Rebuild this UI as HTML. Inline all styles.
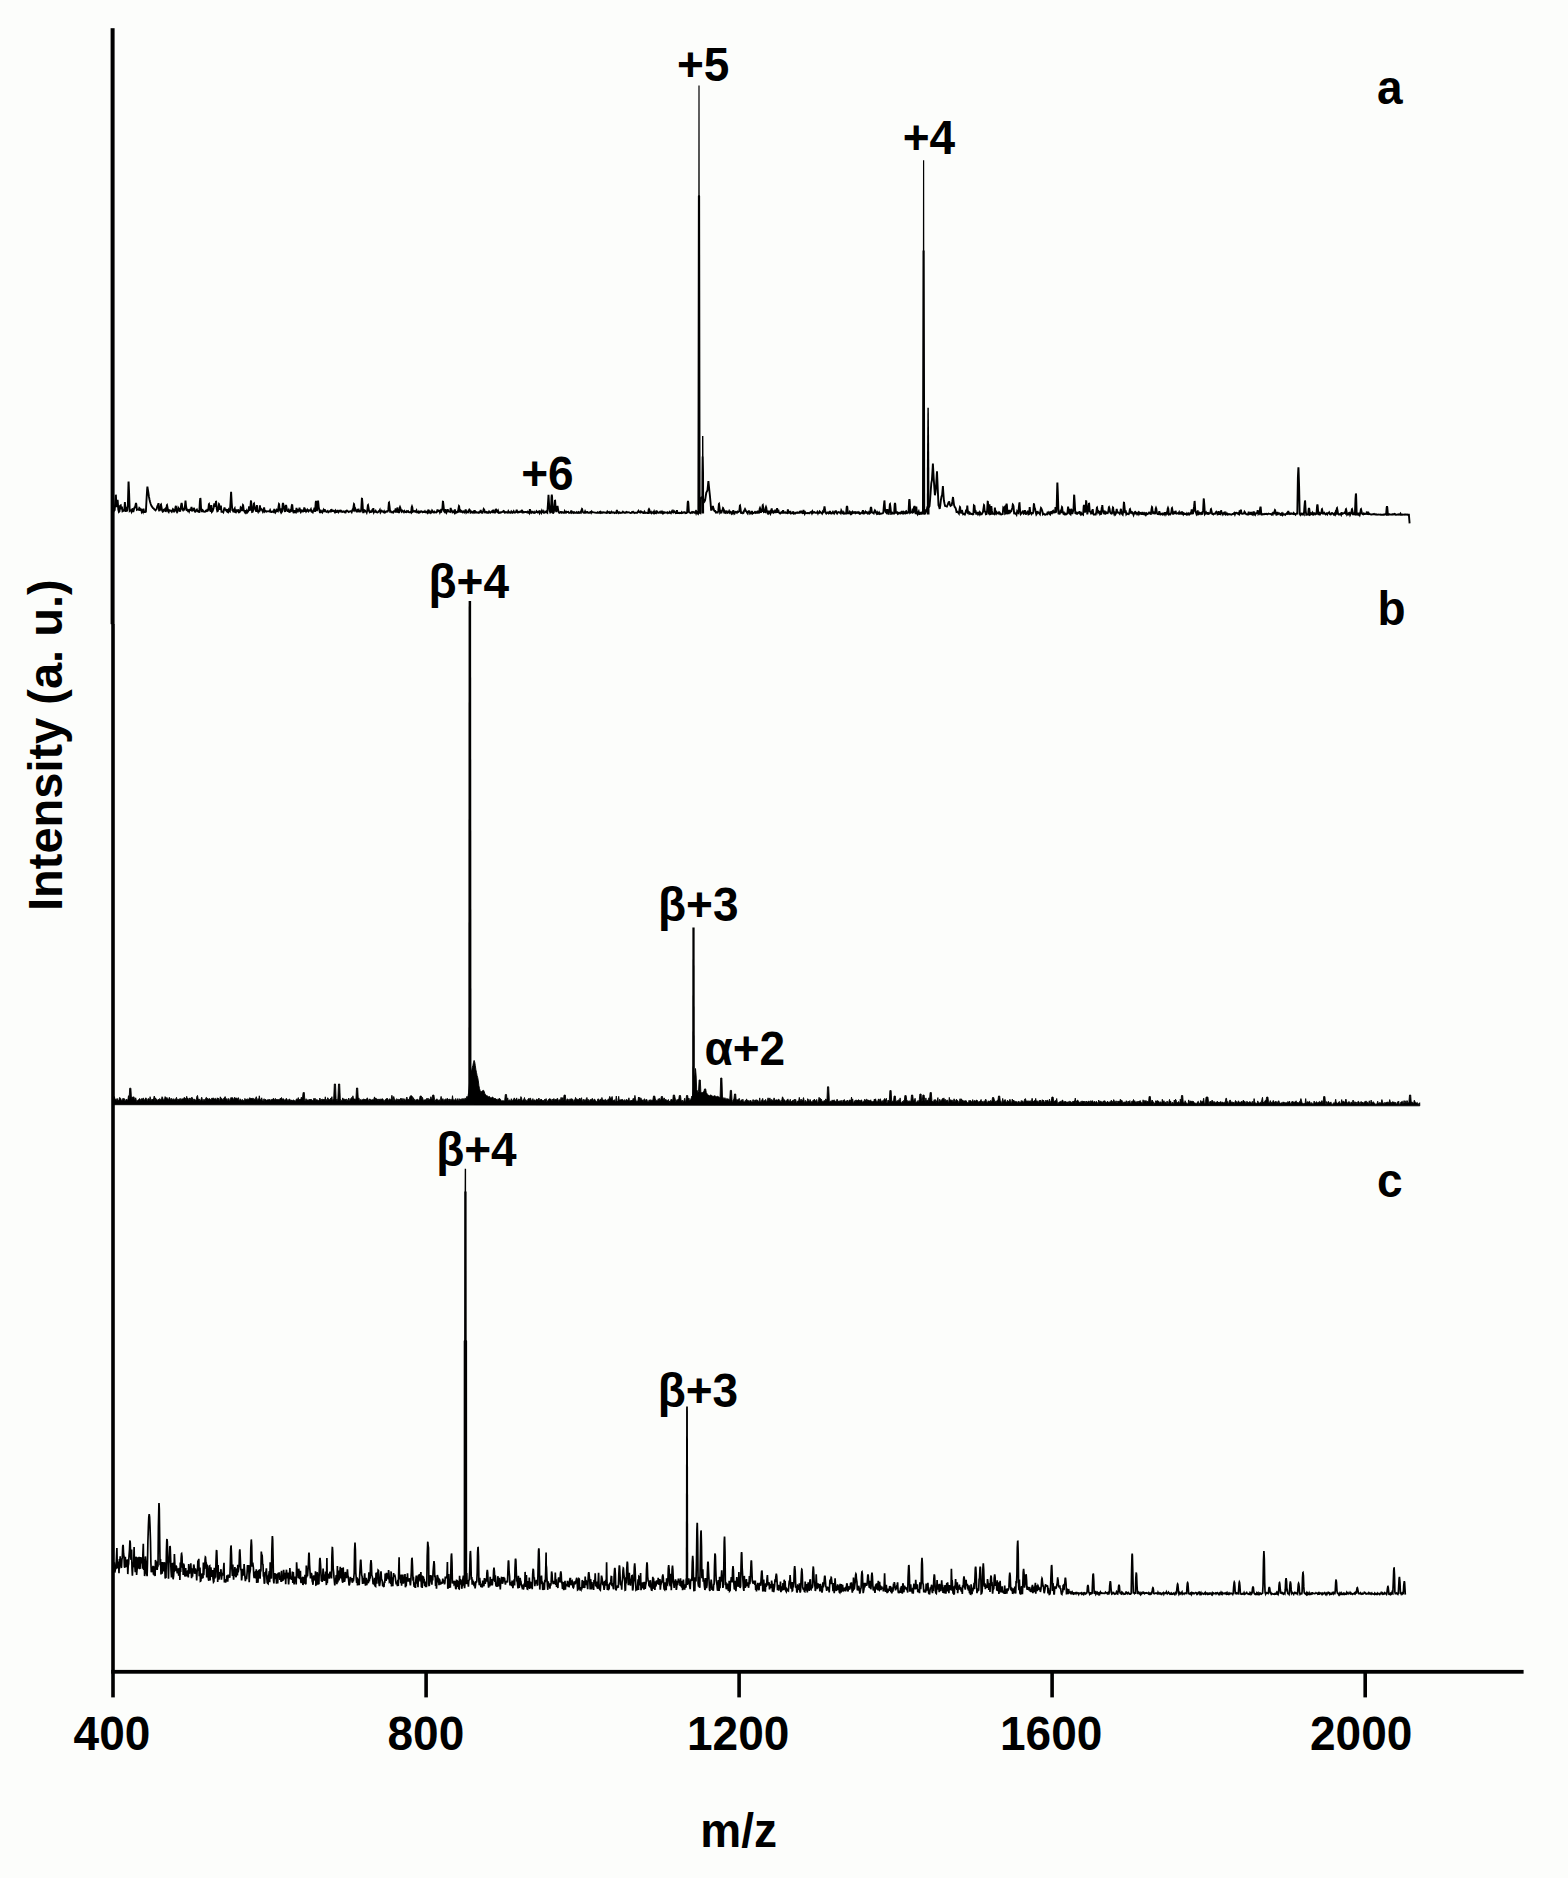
<!DOCTYPE html>
<html lang="en">
<head>
<meta charset="utf-8">
<title>Mass spectra</title>
<style>
html,body{margin:0;padding:0;background:#fcfdfb;}
body{width:1568px;height:1878px;overflow:hidden;font-family:"Liberation Sans", Arial, Helvetica, sans-serif;}
svg{display:block;}
</style>
</head>
<body>
<svg width="1568" height="1878" viewBox="0 0 1568 1878" role="img" aria-label="Mass spectra a, b and c: intensity versus m/z">
<rect x="0" y="0" width="1568" height="1878" fill="#fcfdfb"/>
<g fill="#000" stroke="none">
<rect x="110.6" y="28.2" width="4.0" height="596"/>
<rect x="111.2" y="624" width="3.6" height="1073.4"/>
<rect x="111.2" y="1669.9" width="1412.4" height="3.8"/>
<rect x="424.3" y="1671" width="3.6" height="26.4"/>
<rect x="737.3" y="1671" width="3.6" height="26.4"/>
<rect x="1050.3" y="1671" width="3.6" height="26.4"/>
<rect x="1363.4" y="1671" width="3.6" height="26.4"/>
</g>
<g fill="none" stroke="#000" stroke-linejoin="miter" stroke-miterlimit="3" stroke-linecap="butt">
<polyline stroke-width="1.9" points="113.5,512.0 114.1,510.0 114.7,509.9 115.3,501.1 115.8,494.8 115.9,495.1 116.5,507.2 117.1,502.8 117.5,500.0 117.7,500.7 118.3,509.6 118.9,512.0 119.5,511.4 120.1,505.7 120.7,505.3 121.3,509.4 121.9,506.5 122.5,511.3 123.1,511.0 123.7,510.3 124.3,510.3 124.9,502.1 125.5,512.0 126.1,506.9 126.7,511.5 127.3,510.1 127.9,504.1 128.5,482.1 128.6,481.6 129.1,493.1 129.7,510.7 130.3,510.1 130.9,510.4 131.5,511.7 132.1,509.6 132.7,508.5 133.3,512.0 133.9,509.5 134.5,507.4 135.1,507.2 135.7,504.1 136.0,503.0 136.3,504.1 136.9,509.8 137.5,509.5 138.1,509.7 138.7,509.9 139.3,508.0 139.9,508.6 140.5,510.7 141.1,508.8 141.7,511.8 142.3,510.8 142.9,511.9 143.5,508.8 144.1,512.0 144.7,511.9 145.3,512.0 145.9,511.6 146.5,500.0 147.1,490.0 147.4,486.6 147.7,488.6 148.3,492.2 148.9,496.5 149.5,499.5 150.1,502.0 150.7,504.0 151.3,505.5 151.9,506.5 152.5,507.5 153.1,508.1 153.7,508.4 154.3,509.3 154.9,509.9 155.5,510.4 156.1,509.4 156.7,509.0 157.3,506.3 157.9,505.1 158.0,505.0 158.5,503.2 159.1,510.5 159.7,510.4 160.3,509.5 160.9,504.6 161.0,504.5 161.5,507.1 162.1,510.4 162.7,511.7 163.3,511.4 163.9,509.7 164.5,509.7 165.1,509.0 165.7,511.9 166.3,509.7 166.9,505.1 167.0,505.0 167.5,507.4 168.1,511.3 168.7,512.0 169.3,510.2 169.9,510.5 170.5,510.6 171.1,511.2 171.7,511.8 172.3,510.5 172.9,509.2 173.5,509.8 174.1,512.2 174.7,510.1 175.3,508.3 175.9,505.8 176.5,511.2 177.1,512.2 177.7,511.4 178.3,507.9 178.9,508.9 179.5,509.6 180.1,511.7 180.7,508.0 181.3,504.2 181.6,503.0 181.9,504.2 182.5,509.4 183.1,510.3 183.7,509.3 184.3,510.4 184.9,506.5 185.5,500.5 185.5,500.5 186.1,506.5 186.7,510.0 187.3,509.8 187.9,510.9 188.5,510.3 189.1,511.5 189.7,509.7 190.3,509.7 190.9,509.8 191.5,506.9 192.1,510.6 192.7,510.5 193.3,510.1 193.9,507.9 194.5,509.7 195.1,512.3 195.7,511.0 196.3,510.3 196.9,509.6 197.5,511.1 198.1,510.9 198.7,511.8 199.3,511.9 199.9,501.3 200.3,498.0 200.5,498.8 201.1,508.8 201.7,512.1 202.3,509.9 202.9,510.4 203.5,511.6 204.1,511.6 204.7,511.8 205.3,511.6 205.9,510.7 206.5,511.0 207.1,510.1 207.7,510.7 208.3,509.6 208.9,504.1 209.0,504.0 209.5,506.9 210.1,510.2 210.7,511.7 211.3,505.1 211.9,511.8 212.5,511.2 213.1,509.7 213.7,507.5 214.3,503.4 214.9,506.8 215.5,505.0 216.0,501.0 216.1,501.2 216.7,508.7 217.3,511.3 217.9,510.9 218.5,506.9 219.0,504.0 219.1,504.1 219.7,509.6 220.3,507.9 220.9,505.7 221.5,511.8 222.1,511.8 222.7,511.7 223.3,512.3 223.9,510.1 224.5,507.4 225.1,509.4 225.7,510.0 226.3,510.7 226.9,509.2 227.5,511.8 228.1,512.2 228.7,509.9 229.3,511.1 229.9,511.4 230.5,502.8 231.1,491.8 231.1,491.8 231.7,502.8 232.3,510.1 232.9,510.5 233.5,512.3 234.1,509.5 234.7,508.5 235.3,512.2 235.9,512.3 236.5,509.4 237.1,512.0 237.7,510.3 238.3,510.2 238.9,512.3 239.5,512.1 240.1,511.2 240.7,507.4 241.3,508.0 241.9,511.1 242.5,507.5 243.0,505.0 243.1,505.1 243.7,509.9 244.3,511.4 244.9,512.3 245.5,510.3 246.1,512.1 246.7,510.7 247.3,512.3 247.9,511.6 248.5,510.6 249.1,506.4 249.7,510.7 250.3,508.9 250.9,500.9 251.0,500.7 251.5,504.9 252.1,511.9 252.7,511.7 253.3,509.6 253.9,503.6 254.0,503.5 254.5,506.6 255.1,508.4 255.7,510.3 256.3,511.7 256.9,505.0 257.5,510.6 258.1,511.8 258.7,510.2 259.3,512.2 259.9,505.4 260.5,509.5 261.1,508.8 261.7,509.3 262.3,510.6 262.9,511.9 263.5,510.8 264.1,507.4 264.7,511.4 265.3,510.8 265.9,511.4 266.5,511.7 267.1,511.3 267.7,511.4 268.3,511.4 268.9,511.2 269.5,511.5 270.1,510.2 270.7,511.7 271.3,512.0 271.9,512.0 272.5,511.4 273.1,511.4 273.7,511.9 274.3,509.0 274.9,510.6 275.5,512.3 276.1,511.4 276.7,510.1 277.3,511.1 277.9,511.4 278.5,507.0 279.0,504.0 279.1,504.1 279.7,509.8 280.3,511.0 280.9,508.5 281.5,512.3 282.1,511.5 282.7,504.2 283.0,503.0 283.3,504.2 283.9,507.1 284.5,510.4 285.1,512.0 285.7,505.9 286.0,505.0 286.3,505.9 286.9,509.9 287.5,511.0 288.1,511.0 288.7,509.9 289.3,511.9 289.9,511.8 290.5,510.4 291.1,510.7 291.7,505.9 292.0,505.0 292.3,505.1 292.9,511.0 293.5,512.5 294.1,512.4 294.7,510.3 295.3,512.2 295.9,512.4 296.5,508.0 297.1,511.5 297.7,511.6 298.3,509.1 298.9,511.4 299.5,507.6 300.1,510.9 300.7,512.0 301.3,510.5 301.9,511.2 302.5,510.7 303.1,511.5 303.7,511.1 304.3,507.5 304.9,511.6 305.5,510.3 306.1,511.6 306.7,510.8 307.3,509.7 307.9,510.8 308.5,511.4 309.1,510.2 309.7,510.5 310.3,510.4 310.9,509.3 311.5,511.6 312.1,512.0 312.7,512.4 313.3,510.4 313.9,510.2 314.5,507.7 315.1,511.9 315.7,502.5 316.0,501.0 316.3,502.5 316.9,511.1 317.5,506.8 318.1,500.5 318.1,500.5 318.7,506.8 319.3,510.1 319.9,512.4 320.5,512.4 321.1,510.9 321.7,511.7 322.3,512.4 322.9,510.9 323.5,509.9 324.1,512.0 324.7,509.2 325.3,511.0 325.9,511.4 326.5,511.8 327.1,511.5 327.7,511.0 328.3,512.2 328.9,511.6 329.5,511.5 330.1,511.0 330.7,512.2 331.3,509.1 331.9,511.0 332.5,510.6 333.1,511.0 333.7,510.7 334.3,511.4 334.9,512.3 335.5,510.8 336.1,511.9 336.7,512.0 337.3,510.8 337.9,510.8 338.5,512.2 339.1,511.4 339.7,510.8 340.3,511.4 340.9,510.6 341.5,511.2 342.1,512.0 342.7,511.6 343.3,511.4 343.9,511.7 344.5,512.2 345.1,511.5 345.7,512.2 346.3,511.0 346.9,510.5 347.5,511.1 348.1,511.5 348.7,512.0 349.3,511.7 349.9,511.3 350.5,511.2 351.1,511.2 351.7,512.1 352.3,510.4 352.9,511.4 353.5,507.0 354.0,504.0 354.1,504.1 354.7,509.8 355.3,508.9 355.9,510.7 356.5,511.6 357.1,511.6 357.7,509.0 358.3,512.0 358.9,510.5 359.5,512.3 360.1,510.3 360.7,512.2 361.3,508.6 361.9,498.2 362.0,498.0 362.5,503.4 363.1,512.3 363.7,512.3 364.3,510.1 364.9,510.4 365.5,511.4 366.1,511.2 366.7,512.5 367.3,510.2 367.9,505.1 368.0,505.0 368.5,507.7 369.1,511.2 369.7,512.2 370.3,511.5 370.9,512.1 371.5,512.0 372.1,510.4 372.7,511.0 373.3,508.1 373.9,512.3 374.5,511.3 375.1,511.7 375.7,510.8 376.3,511.9 376.9,512.4 377.5,512.5 378.1,512.1 378.7,511.2 379.3,511.2 379.9,510.0 380.5,512.4 381.1,511.5 381.7,510.7 382.3,511.3 382.9,511.8 383.5,512.2 384.1,511.3 384.7,512.6 385.3,512.4 385.9,511.6 386.5,511.4 387.1,511.8 387.7,511.6 388.3,509.7 388.9,502.6 389.0,502.5 389.5,506.2 390.1,511.5 390.7,511.2 391.3,512.4 391.9,512.4 392.5,512.1 393.1,512.5 393.7,511.3 394.3,511.1 394.9,511.5 395.5,509.4 396.1,509.9 396.7,512.6 397.3,507.5 397.9,512.0 398.5,512.4 399.1,512.4 399.7,507.7 400.0,507.0 400.3,507.7 400.9,510.1 401.5,511.5 402.1,510.6 402.7,511.4 403.3,511.3 403.9,512.2 404.5,511.0 405.1,511.8 405.7,512.2 406.3,512.3 406.9,511.2 407.5,511.6 408.1,511.2 408.7,512.2 409.3,512.3 409.9,512.3 410.5,511.9 411.1,512.5 411.7,507.3 412.0,506.5 412.3,507.3 412.9,511.7 413.5,511.4 414.1,511.2 414.7,511.1 415.3,511.9 415.9,511.7 416.5,510.5 417.1,512.3 417.7,512.1 418.3,512.6 418.9,511.6 419.5,512.5 420.1,512.3 420.7,511.3 421.3,511.2 421.9,511.7 422.5,512.2 423.1,511.7 423.7,512.1 424.3,512.0 424.9,511.2 425.5,512.3 426.1,512.3 426.7,511.8 427.3,512.7 427.9,511.1 428.5,509.7 429.1,512.3 429.7,511.7 430.3,512.7 430.9,511.7 431.5,512.3 432.1,510.5 432.7,511.3 433.3,512.2 433.9,512.5 434.5,511.7 435.1,512.2 435.7,512.4 436.3,512.5 436.9,511.7 437.5,509.5 438.1,511.1 438.7,510.6 439.3,510.7 439.9,512.4 440.5,511.0 441.1,512.6 441.7,509.6 442.3,509.5 442.9,501.2 443.0,501.0 443.5,505.3 444.1,511.3 444.7,512.0 445.3,509.2 445.9,510.9 446.5,512.5 447.1,511.1 447.7,509.4 448.3,511.3 448.9,511.6 449.5,511.6 450.1,511.9 450.7,507.8 451.3,511.2 451.9,510.9 452.5,512.4 453.1,512.1 453.7,511.4 454.3,512.4 454.9,509.5 455.5,512.7 456.1,512.0 456.7,512.5 457.3,511.7 457.9,512.7 458.5,508.4 459.0,506.0 459.1,506.1 459.7,510.7 460.3,512.5 460.9,510.7 461.5,511.2 462.1,512.0 462.7,512.4 463.3,511.2 463.9,511.3 464.5,512.3 465.1,511.6 465.7,509.5 466.3,512.4 466.9,511.6 467.5,512.1 468.1,512.3 468.7,510.6 469.3,509.6 469.9,510.3 470.5,512.7 471.1,512.4 471.7,511.6 472.3,512.2 472.9,512.8 473.5,511.7 474.1,512.3 474.7,510.3 475.3,512.6 475.9,512.6 476.5,512.1 477.1,512.5 477.7,512.4 478.3,512.8 478.9,512.2 479.5,512.6 480.1,511.9 480.7,510.1 481.3,512.4 481.9,512.7 482.5,512.7 483.1,511.1 483.7,509.1 484.3,509.9 484.9,512.3 485.5,512.1 486.1,512.6 486.7,512.1 487.3,512.7 487.9,512.3 488.5,512.7 489.1,511.4 489.7,512.1 490.3,512.7 490.9,512.1 491.5,511.6 492.1,511.2 492.7,512.8 493.3,509.7 493.9,512.1 494.5,512.6 495.1,512.6 495.7,509.6 496.3,509.5 496.9,511.7 497.5,512.1 498.1,510.8 498.7,512.7 499.3,512.5 499.9,512.8 500.5,512.3 501.1,512.5 501.7,512.2 502.3,511.9 502.9,511.9 503.5,511.0 504.1,511.3 504.7,512.6 505.3,512.5 505.9,512.0 506.5,512.1 507.1,512.5 507.7,512.6 508.3,511.2 508.9,512.4 509.5,512.2 510.1,512.7 510.7,512.7 511.3,511.5 511.9,512.2 512.5,512.8 513.1,512.3 513.7,511.2 514.3,512.4 514.9,512.6 515.5,512.2 516.1,511.7 516.7,509.7 517.3,512.3 517.9,512.6 518.5,512.0 519.1,511.7 519.7,512.2 520.3,512.0 520.9,511.3 521.5,511.8 522.1,509.9 522.7,512.5 523.3,512.6 523.9,512.0 524.5,512.2 525.1,511.9 525.7,511.9 526.3,512.1 526.9,512.4 527.5,511.8 528.1,512.6 528.7,512.0 529.3,512.9 529.9,509.2 530.5,512.4 531.1,511.8 531.7,512.7 532.3,511.9 532.9,512.3 533.5,512.7 534.1,511.9 534.7,512.8 535.3,512.6 535.9,512.2 536.5,511.2 537.1,512.0 537.7,512.4 538.3,511.7 538.9,511.4 539.5,512.9 540.1,511.4 540.7,511.6 541.3,512.7 541.9,510.7 542.5,511.9 543.1,512.4 543.7,511.4 544.3,512.7 544.9,512.4 545.5,512.2 546.1,511.5 546.7,512.2 547.3,512.7 547.9,504.7 548.5,494.8 548.5,494.8 549.1,504.7 549.7,510.7 550.3,512.5 550.9,512.1 551.5,497.0 551.8,494.5 552.1,497.0 552.7,512.8 553.3,512.9 553.9,512.0 554.5,504.9 555.0,500.0 555.1,500.2 555.7,509.5 556.3,512.1 556.9,509.6 557.5,506.0 557.5,506.0 558.1,509.6 558.7,512.1 559.3,512.9 559.9,512.7 560.5,511.9 561.1,511.9 561.7,512.7 562.3,512.2 562.9,512.5 563.5,512.9 564.1,512.9 564.7,511.3 565.3,512.6 565.9,512.8 566.5,511.8 567.1,512.1 567.7,512.0 568.3,511.8 568.9,512.9 569.5,512.9 570.1,512.8 570.7,512.3 571.3,510.5 571.9,512.8 572.5,512.4 573.1,512.1 573.7,512.9 574.3,512.3 574.9,512.8 575.5,512.8 576.1,512.8 576.7,512.1 577.3,512.8 577.9,512.9 578.5,512.1 579.1,512.7 579.7,512.9 580.3,512.1 580.9,512.6 581.5,510.4 582.0,509.0 582.1,509.1 582.7,511.7 583.3,512.6 583.9,512.9 584.5,512.9 585.1,511.4 585.7,512.7 586.3,512.6 586.9,512.0 587.5,512.0 588.1,512.9 588.7,512.9 589.3,512.8 589.9,512.4 590.5,512.0 591.1,512.8 591.7,511.5 592.3,512.3 592.9,512.2 593.5,512.4 594.1,512.4 594.7,512.6 595.3,512.6 595.9,512.7 596.5,512.9 597.1,512.9 597.7,512.3 598.3,512.7 598.9,512.7 599.5,512.1 600.1,512.8 600.7,511.9 601.3,512.8 601.9,512.6 602.5,512.7 603.1,512.2 603.7,512.5 604.3,512.5 604.9,512.5 605.5,512.7 606.1,512.9 606.7,512.8 607.3,511.7 607.9,512.6 608.5,512.4 609.1,512.0 609.7,513.0 610.3,513.0 610.9,512.3 611.5,511.8 612.1,512.8 612.7,512.7 613.3,512.3 613.9,512.6 614.5,513.0 615.1,512.5 615.7,512.7 616.3,512.9 616.9,509.9 617.5,512.4 618.1,512.3 618.7,513.0 619.3,512.3 619.9,512.7 620.5,512.9 621.1,512.7 621.7,512.7 622.3,512.6 622.9,511.7 623.5,512.4 624.1,512.8 624.7,512.6 625.3,512.5 625.9,512.7 626.5,511.9 627.1,512.1 627.7,512.5 628.3,512.4 628.9,512.2 629.5,512.7 630.1,512.8 630.7,513.0 631.3,512.9 631.9,512.2 632.5,512.4 633.1,511.8 633.7,512.4 634.3,513.0 634.9,512.7 635.5,512.6 636.1,512.7 636.7,512.7 637.3,512.7 637.9,511.8 638.5,510.9 639.1,512.0 639.7,512.3 640.3,512.5 640.9,511.4 641.5,511.8 642.1,512.4 642.7,512.3 643.3,513.0 643.9,513.0 644.5,511.7 645.1,512.7 645.7,512.9 646.3,512.7 646.9,512.9 647.5,513.1 648.1,513.1 648.7,509.5 649.0,509.0 649.3,509.5 649.9,512.9 650.5,512.9 651.1,512.0 651.7,513.1 652.3,512.5 652.9,512.2 653.5,512.9 654.1,511.5 654.7,513.1 655.3,512.6 655.9,513.0 656.5,510.6 657.1,512.6 657.7,512.2 658.3,512.8 658.9,512.8 659.5,512.4 660.1,511.8 660.7,512.7 661.3,512.6 661.9,511.7 662.5,513.1 663.1,512.3 663.7,513.1 664.3,512.3 664.9,512.7 665.5,512.5 666.1,512.7 666.7,512.8 667.3,512.3 667.9,513.1 668.5,512.7 669.1,512.9 669.7,511.9 670.3,512.7 670.9,513.2 671.5,511.9 672.1,511.0 672.7,512.2 673.3,512.5 673.9,511.0 674.5,511.7 675.1,512.2 675.7,513.2 676.3,513.0 676.9,510.2 677.5,513.0 678.1,513.0 678.7,513.0 679.3,512.8 679.9,513.1 680.5,512.9 681.1,513.1 681.7,512.2 682.3,513.0 682.9,512.8 683.5,512.4 684.1,512.3 684.7,512.1 685.3,513.1 685.9,513.0 686.5,513.1 687.1,512.6 687.7,502.7 688.0,501.0 688.3,502.7 688.9,511.8 689.5,512.5 690.1,512.6 690.7,513.1 691.3,512.7 691.9,512.1 692.5,512.6 693.1,511.9 693.7,512.3 694.3,512.8 694.9,512.6 695.5,511.6 696.1,513.3 696.7,511.7 697.3,512.8 697.9,511.2 698.5,513.2 699.1,512.1 699.7,511.8 700.3,512.5 700.9,497.9 701.5,497.3 702.1,497.5 702.7,498.4 703.3,499.3 703.9,500.2 704.5,501.4 705.1,500.1 705.7,496.4 706.3,492.5 706.9,491.6 707.5,490.0 708.1,484.0 708.4,481.0 708.7,484.0 709.3,490.0 709.9,495.5 710.5,502.0 711.1,509.7 711.7,509.7 712.3,508.0 712.9,505.9 713.5,508.6 714.1,510.4 714.7,511.1 715.3,511.0 715.9,512.5 716.5,512.3 717.1,512.6 717.7,512.6 718.3,510.7 718.9,503.9 719.0,503.8 719.5,507.3 720.1,512.5 720.7,511.7 721.3,513.2 721.9,511.1 722.5,509.9 723.0,508.0 723.1,508.1 723.7,509.9 724.3,513.4 724.9,511.7 725.5,512.8 726.1,512.2 726.7,510.7 727.3,513.0 727.9,512.7 728.5,512.3 729.1,511.1 729.7,512.5 730.3,511.6 730.9,511.9 731.5,513.5 732.1,512.7 732.7,513.4 733.3,510.1 733.9,513.1 734.5,513.6 735.1,511.9 735.7,511.7 736.3,512.2 736.9,512.7 737.5,511.6 738.1,512.1 738.7,511.8 739.3,511.2 739.9,505.6 740.0,505.5 740.5,508.4 741.1,513.6 741.7,512.6 742.3,512.5 742.9,513.3 743.5,512.9 744.1,510.7 744.7,509.6 745.0,509.0 745.3,509.6 745.9,511.1 746.5,511.5 747.1,512.7 747.7,513.5 748.3,511.5 748.9,511.1 749.5,511.4 750.1,513.5 750.7,512.9 751.3,513.2 751.9,510.9 752.5,513.5 753.1,513.0 753.7,513.0 754.3,512.5 754.9,511.9 755.5,512.8 756.1,512.2 756.7,512.9 757.3,512.9 757.9,510.7 758.5,512.2 759.1,513.3 759.7,508.7 760.0,508.0 760.3,508.7 760.9,512.7 761.5,511.3 762.1,511.1 762.7,505.1 762.8,505.0 763.3,508.1 763.9,512.0 764.5,511.7 765.1,512.0 765.7,507.8 766.0,507.0 766.3,507.8 766.9,511.9 767.5,513.0 768.1,511.9 768.7,513.2 769.3,512.3 769.9,511.5 770.5,513.6 771.1,512.3 771.7,508.4 772.3,513.1 772.9,510.6 773.5,512.7 774.1,512.2 774.7,511.2 775.3,512.9 775.9,509.6 776.5,513.0 777.1,508.2 777.7,512.8 778.3,509.7 778.9,512.6 779.5,513.1 780.1,513.5 780.7,513.0 781.3,512.2 781.9,512.8 782.5,512.8 783.1,510.2 783.7,512.7 784.3,512.7 784.9,512.3 785.5,512.2 786.1,513.0 786.7,512.7 787.3,513.0 787.9,509.4 788.5,513.4 789.1,512.2 789.7,512.6 790.3,511.0 790.9,513.4 791.5,513.1 792.1,513.2 792.7,513.0 793.3,511.4 793.9,513.6 794.5,513.2 795.1,513.5 795.7,512.8 796.3,512.5 796.9,512.8 797.5,512.4 798.1,512.9 798.7,512.7 799.3,512.7 799.9,511.0 800.5,513.2 801.1,510.7 801.7,512.4 802.3,512.6 802.9,513.7 803.5,510.0 804.1,512.2 804.7,513.7 805.3,512.3 805.9,513.1 806.5,513.1 807.1,513.2 807.7,513.0 808.3,513.0 808.9,513.3 809.5,513.3 810.1,512.4 810.7,512.0 811.3,511.8 811.9,513.2 812.5,511.5 813.1,512.7 813.7,512.2 814.3,512.0 814.9,512.7 815.5,512.8 816.1,512.9 816.7,512.9 817.3,511.9 817.9,513.3 818.5,511.7 819.1,513.6 819.7,511.4 820.3,511.9 820.9,512.7 821.5,512.9 822.1,513.6 822.7,511.9 823.3,513.1 823.9,510.2 824.5,506.5 824.5,506.5 825.1,510.2 825.7,512.8 826.3,513.6 826.9,513.1 827.5,512.4 828.1,512.4 828.7,513.4 829.3,513.1 829.9,511.0 830.5,512.5 831.1,513.6 831.7,513.6 832.3,512.7 832.9,511.8 833.5,512.9 834.1,513.6 834.7,512.3 835.3,511.3 835.9,511.1 836.5,512.8 837.1,513.6 837.7,512.5 838.3,512.1 838.9,512.4 839.5,512.6 840.1,512.2 840.7,513.1 841.3,510.4 841.9,511.4 842.5,513.2 843.1,513.5 843.7,512.4 844.3,513.6 844.9,513.5 845.5,513.4 846.1,513.5 846.7,507.0 847.0,506.0 847.3,507.0 847.9,513.8 848.5,512.8 849.1,513.1 849.7,511.9 850.3,513.2 850.9,511.5 851.5,513.8 852.1,513.3 852.7,511.8 853.3,512.6 853.9,513.0 854.5,512.1 855.1,512.0 855.7,513.3 856.3,513.0 856.9,512.3 857.5,512.8 858.1,512.2 858.7,513.0 859.3,512.6 859.9,513.9 860.5,513.7 861.1,512.9 861.7,512.5 862.3,512.9 862.9,510.2 863.5,513.6 864.1,513.6 864.7,512.6 865.3,511.8 865.9,513.5 866.5,511.4 867.1,513.0 867.7,513.7 868.3,513.5 868.9,512.3 869.5,513.5 870.1,513.0 870.7,507.9 871.0,507.0 871.3,507.9 871.9,512.4 872.5,512.6 873.1,513.1 873.7,513.5 874.3,511.5 874.9,510.3 875.5,511.1 876.1,512.8 876.7,513.7 877.3,512.5 877.9,513.8 878.5,513.6 879.1,512.6 879.7,513.9 880.3,513.5 880.9,513.8 881.5,513.7 882.1,513.4 882.7,513.4 883.3,512.6 883.9,505.6 884.4,500.7 884.5,500.9 885.1,510.3 885.7,511.9 886.3,512.6 886.9,510.0 887.5,510.0 888.1,513.7 888.7,513.8 889.3,511.1 889.9,504.1 890.0,504.0 890.5,507.6 891.1,513.8 891.7,513.6 892.3,512.8 892.9,513.5 893.5,513.3 894.1,513.4 894.7,504.4 895.0,503.0 895.3,504.4 895.9,512.7 896.5,512.7 897.1,512.4 897.7,513.7 898.3,512.9 898.9,513.6 899.5,512.8 900.1,512.6 900.7,513.4 901.3,512.9 901.9,511.1 902.5,513.4 903.1,513.6 903.7,512.1 904.3,512.9 904.9,513.4 905.5,511.6 906.1,511.2 906.7,513.9 907.3,512.5 907.9,512.1 908.5,513.3 909.1,501.2 909.4,499.2 909.7,501.2 910.3,512.6 910.9,512.0 911.5,512.2 912.1,512.5 912.7,508.7 913.3,513.1 913.9,507.4 914.5,506.0 914.5,506.0 915.1,510.1 915.7,514.1 916.3,506.6 916.9,512.6 917.5,514.1 918.1,512.8 918.7,511.6 919.3,514.1 919.9,513.9 920.5,512.1 921.1,514.4 921.7,512.8 922.3,512.1 922.9,511.5 923.5,511.5 924.1,510.0 924.7,514.3 925.3,509.3 925.9,512.1 926.5,511.0 927.1,508.3 927.7,509.1 928.3,508.1 928.9,507.1 929.5,506.2 930.1,499.3 930.7,491.3 931.3,483.3 931.9,480.3 932.5,470.8 932.9,463.5 933.1,467.2 933.7,478.2 934.3,487.0 934.9,495.3 935.5,491.8 936.1,486.0 936.7,476.4 937.0,471.2 937.3,478.3 937.9,492.4 938.5,505.3 939.1,506.5 939.7,508.9 940.3,505.3 940.9,500.0 941.5,496.6 942.1,495.2 942.7,488.6 942.9,486.1 943.3,492.3 943.9,500.5 944.5,503.5 945.1,506.0 945.7,506.2 946.3,506.3 946.9,506.5 947.5,505.2 948.1,503.7 948.7,502.2 949.3,502.1 949.9,504.7 950.5,505.8 951.1,505.4 951.7,505.1 952.3,501.7 952.9,497.7 953.0,497.0 953.5,501.0 954.1,505.3 954.7,506.9 955.3,507.5 955.9,509.1 956.5,511.9 957.1,511.6 957.7,512.2 958.3,512.7 958.9,513.5 959.5,509.5 960.0,507.0 960.1,507.1 960.7,511.9 961.3,513.4 961.9,510.1 962.5,512.3 963.1,514.2 963.7,513.7 964.3,513.7 964.9,514.5 965.5,513.2 966.1,509.6 966.7,512.6 967.3,505.7 967.9,512.5 968.5,512.0 969.1,513.5 969.7,512.7 970.3,513.8 970.9,513.6 971.5,514.0 972.1,513.9 972.7,514.5 973.3,514.3 973.9,505.5 974.5,506.0 975.1,511.7 975.7,511.4 976.3,514.6 976.9,512.5 977.5,512.6 978.1,514.3 978.7,513.6 979.3,512.4 979.9,514.2 980.5,513.0 981.1,514.2 981.7,514.2 982.3,513.3 982.9,512.2 983.5,508.3 984.0,505.0 984.1,505.1 984.7,511.4 985.3,511.7 985.9,514.3 986.5,514.1 987.1,510.6 987.7,501.2 987.8,501.0 988.3,505.9 988.9,514.5 989.5,504.3 990.1,514.3 990.7,514.1 991.3,506.1 991.9,510.9 992.5,513.7 993.1,513.6 993.7,513.6 994.3,514.0 994.9,507.7 995.5,513.2 996.1,513.8 996.7,512.3 997.3,513.3 997.9,513.3 998.5,513.5 999.1,512.1 999.7,512.5 1000.3,514.3 1000.9,514.3 1001.5,514.5 1002.1,514.2 1002.7,514.0 1003.3,507.7 1003.9,508.3 1004.5,507.4 1005.1,513.7 1005.7,513.2 1006.3,505.2 1006.6,503.8 1006.9,505.2 1007.5,512.9 1008.1,512.2 1008.7,514.0 1009.3,509.8 1009.9,513.4 1010.5,510.4 1011.1,512.0 1011.7,509.5 1012.3,508.0 1012.8,504.5 1012.9,504.6 1013.5,506.2 1014.1,513.1 1014.7,512.8 1015.3,513.7 1015.9,513.6 1016.5,514.6 1017.1,511.5 1017.7,512.6 1018.3,513.0 1018.9,506.8 1019.4,502.5 1019.5,502.7 1020.1,511.0 1020.7,514.2 1021.3,513.5 1021.9,512.6 1022.5,512.0 1023.1,510.7 1023.7,513.7 1024.3,513.3 1024.9,510.1 1025.5,513.2 1026.1,514.6 1026.7,511.7 1027.3,514.0 1027.9,510.6 1028.5,514.4 1029.1,514.1 1029.7,507.2 1030.3,513.1 1030.9,512.9 1031.5,513.9 1032.1,512.2 1032.7,514.0 1033.3,511.2 1033.9,503.7 1034.0,503.5 1034.5,507.5 1035.1,508.7 1035.7,512.3 1036.3,514.4 1036.9,513.5 1037.5,511.2 1038.1,512.6 1038.7,512.8 1039.3,513.5 1039.9,514.2 1040.5,510.2 1041.0,508.0 1041.1,508.1 1041.7,509.3 1042.3,510.9 1042.9,514.2 1043.5,513.5 1044.1,513.9 1044.7,514.6 1045.3,514.7 1045.9,514.4 1046.5,514.1 1047.1,514.3 1047.7,511.6 1048.3,514.0 1048.9,512.7 1049.5,513.9 1050.1,514.4 1050.7,511.4 1051.3,513.2 1051.9,513.4 1052.5,511.4 1053.1,510.9 1053.7,513.4 1054.3,510.9 1054.9,513.1 1055.5,507.0 1056.1,512.7 1056.7,506.4 1057.3,483.1 1057.4,482.6 1057.9,494.7 1058.5,514.2 1059.1,513.1 1059.7,514.4 1060.3,511.8 1060.9,513.0 1061.5,509.6 1062.0,507.0 1062.1,507.1 1062.7,512.1 1063.3,513.4 1063.9,512.7 1064.5,514.1 1065.1,513.6 1065.7,514.5 1066.3,514.4 1066.9,513.9 1067.5,512.3 1068.1,506.6 1068.7,511.7 1069.3,510.8 1069.9,513.8 1070.5,514.3 1071.1,508.9 1071.7,510.6 1072.3,514.1 1072.9,511.7 1073.5,509.3 1074.1,495.1 1074.2,494.8 1074.7,502.2 1075.3,513.1 1075.9,513.4 1076.5,511.6 1077.1,514.5 1077.7,512.9 1078.3,513.0 1078.9,512.6 1079.5,511.3 1080.1,513.8 1080.7,514.5 1081.3,513.3 1081.9,514.3 1082.5,514.1 1083.1,514.6 1083.7,506.2 1084.0,505.0 1084.3,506.2 1084.9,512.5 1085.5,510.6 1086.1,500.7 1086.2,500.5 1086.7,505.7 1087.3,514.4 1087.9,511.2 1088.5,507.2 1089.0,503.0 1089.1,503.2 1089.7,511.2 1090.3,511.9 1090.9,513.1 1091.5,512.0 1092.1,513.9 1092.7,509.1 1093.3,513.8 1093.9,514.6 1094.5,514.4 1095.1,514.6 1095.7,514.6 1096.3,512.3 1096.9,507.6 1097.0,507.5 1097.5,509.9 1098.1,512.4 1098.7,511.3 1099.3,512.0 1099.9,513.7 1100.5,512.4 1101.1,514.7 1101.7,508.0 1102.0,507.0 1102.3,505.2 1102.9,510.8 1103.5,512.6 1104.1,511.7 1104.7,513.0 1105.3,514.4 1105.9,512.1 1106.5,512.7 1107.1,513.2 1107.7,513.3 1108.3,511.4 1108.9,507.1 1109.0,507.0 1109.5,508.4 1110.1,512.1 1110.7,513.2 1111.3,513.7 1111.9,513.5 1112.5,510.0 1113.0,507.5 1113.1,507.6 1113.7,512.3 1114.3,514.3 1114.9,513.1 1115.5,514.2 1116.1,512.9 1116.7,509.0 1117.3,512.4 1117.9,512.3 1118.5,512.4 1119.1,513.1 1119.7,513.8 1120.3,512.0 1120.9,508.8 1121.5,512.7 1122.1,514.0 1122.7,514.7 1123.3,511.1 1123.9,502.2 1124.0,502.0 1124.5,506.6 1125.1,513.1 1125.7,510.5 1126.3,514.4 1126.9,513.7 1127.5,513.6 1128.1,514.2 1128.7,514.3 1129.3,512.7 1129.9,509.1 1130.0,509.0 1130.5,510.9 1131.1,513.5 1131.7,511.4 1132.3,513.3 1132.9,513.4 1133.5,514.8 1134.1,512.7 1134.7,512.2 1135.3,514.3 1135.9,512.5 1136.5,513.1 1137.1,514.2 1137.7,513.4 1138.3,512.5 1138.9,514.1 1139.5,512.8 1140.1,513.5 1140.7,513.1 1141.3,514.1 1141.9,514.1 1142.5,511.9 1143.1,514.2 1143.7,514.3 1144.3,513.3 1144.9,514.2 1145.5,512.5 1146.1,514.6 1146.7,513.5 1147.3,514.2 1147.9,514.0 1148.5,513.2 1149.1,512.4 1149.7,512.7 1150.3,513.8 1150.9,513.9 1151.5,509.4 1152.0,507.0 1152.1,507.1 1152.7,512.3 1153.3,514.0 1153.9,512.2 1154.5,512.4 1155.1,514.2 1155.7,508.8 1156.0,508.0 1156.3,508.8 1156.9,512.8 1157.5,514.0 1158.1,513.9 1158.7,514.2 1159.3,511.3 1159.9,513.8 1160.5,514.3 1161.1,513.6 1161.7,513.6 1162.3,514.4 1162.9,513.4 1163.5,513.4 1164.1,514.4 1164.7,512.9 1165.3,512.9 1165.9,514.3 1166.5,513.0 1167.1,514.4 1167.7,508.8 1168.0,508.0 1168.3,508.8 1168.9,514.4 1169.5,514.0 1170.1,514.5 1170.7,513.8 1171.3,512.4 1171.9,508.1 1172.0,508.0 1172.5,510.3 1173.1,514.6 1173.7,511.3 1174.3,512.5 1174.9,513.8 1175.5,510.9 1176.1,512.6 1176.7,513.7 1177.3,513.5 1177.9,513.1 1178.5,513.5 1179.1,512.3 1179.7,514.4 1180.3,512.2 1180.9,514.2 1181.5,511.4 1182.1,514.5 1182.7,513.2 1183.3,514.5 1183.9,513.4 1184.5,514.0 1185.1,513.8 1185.7,513.9 1186.3,514.5 1186.9,513.4 1187.5,514.5 1188.1,514.3 1188.7,513.5 1189.3,514.6 1189.9,514.2 1190.5,513.0 1191.1,513.3 1191.7,509.4 1192.3,512.8 1192.9,514.2 1193.5,510.6 1194.1,506.2 1194.6,501.2 1194.7,501.4 1195.3,511.0 1195.9,512.5 1196.5,514.2 1197.1,513.1 1197.7,510.5 1198.3,514.3 1198.9,513.9 1199.5,513.0 1200.1,513.8 1200.7,513.0 1201.3,512.7 1201.9,514.1 1202.5,513.9 1203.1,510.4 1203.7,498.9 1203.8,498.7 1204.3,504.7 1204.9,514.1 1205.5,513.4 1206.1,512.5 1206.7,514.1 1207.3,512.2 1207.9,514.6 1208.5,513.2 1209.1,513.6 1209.7,513.4 1210.3,512.8 1210.9,509.1 1211.0,509.0 1211.5,511.0 1212.1,513.8 1212.7,514.0 1213.3,514.4 1213.9,513.6 1214.5,513.6 1215.1,513.7 1215.7,512.5 1216.3,511.8 1216.9,512.5 1217.5,514.3 1218.1,514.0 1218.7,511.1 1219.3,514.0 1219.9,513.8 1220.5,514.2 1221.1,510.3 1221.7,513.1 1222.3,513.1 1222.9,514.4 1223.5,513.3 1224.1,512.7 1224.7,513.9 1225.3,514.4 1225.9,512.9 1226.5,514.0 1227.1,514.6 1227.7,513.7 1228.3,514.4 1228.9,514.3 1229.5,514.1 1230.1,514.3 1230.7,514.4 1231.3,514.7 1231.9,514.5 1232.5,514.0 1233.1,514.0 1233.7,513.4 1234.3,512.9 1234.9,514.4 1235.5,512.9 1236.1,512.7 1236.7,512.8 1237.3,513.5 1237.9,513.2 1238.5,514.0 1239.1,514.4 1239.7,510.3 1240.3,514.1 1240.9,509.7 1241.5,513.4 1242.1,513.9 1242.7,513.9 1243.3,513.5 1243.9,513.5 1244.5,511.7 1245.1,512.5 1245.7,513.7 1246.3,514.2 1246.9,514.2 1247.5,514.6 1248.1,514.6 1248.7,511.7 1249.3,514.0 1249.9,513.6 1250.5,513.9 1251.1,512.0 1251.7,514.0 1252.3,514.6 1252.9,514.0 1253.5,511.5 1254.1,514.2 1254.7,513.3 1255.3,514.6 1255.9,513.5 1256.5,513.2 1257.1,513.0 1257.7,510.1 1258.3,513.8 1258.9,512.9 1259.5,513.6 1260.1,508.6 1260.5,506.8 1260.7,507.3 1261.3,514.1 1261.9,514.7 1262.5,514.4 1263.1,514.0 1263.7,514.2 1264.3,514.2 1264.9,513.8 1265.5,514.0 1266.1,514.0 1266.7,513.8 1267.3,514.4 1267.9,514.0 1268.5,513.6 1269.1,513.9 1269.7,513.9 1270.3,513.9 1270.9,514.1 1271.5,514.6 1272.1,513.8 1272.7,514.4 1273.3,511.9 1273.9,514.4 1274.5,511.6 1275.0,510.0 1275.1,510.1 1275.7,513.2 1276.3,514.6 1276.9,514.0 1277.5,511.9 1278.1,514.0 1278.7,513.5 1279.3,513.3 1279.9,513.7 1280.5,514.8 1281.1,514.6 1281.7,513.7 1282.3,514.8 1282.9,513.5 1283.5,514.6 1284.1,514.4 1284.7,514.3 1285.3,514.8 1285.9,514.0 1286.5,513.7 1287.1,512.9 1287.7,514.6 1288.3,511.0 1288.9,514.5 1289.5,512.5 1290.1,514.0 1290.7,513.8 1291.3,513.4 1291.9,513.8 1292.5,513.7 1293.1,514.0 1293.7,513.0 1294.3,513.9 1294.9,514.0 1295.5,514.7 1296.1,514.0 1296.7,513.3 1297.3,513.5 1297.9,477.1 1298.4,467.4 1298.4,467.4 1298.5,467.8 1299.1,486.4 1299.7,513.8 1300.3,514.8 1300.9,513.7 1301.5,513.6 1302.1,514.5 1302.7,514.5 1303.3,513.4 1303.9,514.2 1304.5,505.9 1305.0,500.6 1305.1,500.8 1305.7,511.1 1306.3,514.7 1306.9,514.5 1307.5,514.3 1308.1,514.5 1308.7,508.9 1309.0,508.0 1309.3,508.9 1309.9,514.7 1310.5,514.4 1311.1,513.4 1311.7,513.8 1312.3,512.8 1312.9,514.7 1313.5,514.8 1314.1,513.1 1314.7,513.5 1315.3,514.2 1315.9,513.5 1316.5,513.8 1317.1,505.9 1317.4,504.5 1317.7,505.9 1318.3,513.7 1318.9,514.2 1319.5,513.2 1320.1,514.2 1320.7,513.2 1321.3,513.1 1321.9,509.1 1322.0,509.0 1322.5,511.1 1323.1,513.6 1323.7,513.5 1324.3,512.8 1324.9,513.7 1325.5,514.4 1326.1,513.8 1326.7,513.4 1327.3,514.3 1327.9,513.1 1328.5,513.0 1329.1,512.3 1329.7,514.0 1330.3,514.4 1330.9,514.3 1331.5,513.0 1332.1,512.9 1332.7,513.4 1333.3,514.2 1333.9,514.8 1334.5,513.7 1335.1,514.5 1335.7,511.9 1336.3,512.8 1336.9,508.1 1337.0,508.0 1337.5,510.5 1338.1,514.0 1338.7,514.6 1339.3,514.6 1339.9,514.1 1340.5,513.8 1341.1,514.8 1341.7,512.2 1342.3,513.9 1342.9,513.6 1343.5,513.4 1344.1,513.0 1344.7,512.4 1345.3,513.1 1345.9,509.1 1346.0,509.0 1346.5,511.1 1347.1,514.5 1347.7,513.8 1348.3,514.3 1348.9,513.0 1349.5,512.8 1350.1,514.9 1350.7,513.8 1351.3,513.1 1351.9,509.1 1352.0,509.0 1352.5,511.1 1353.1,515.0 1353.7,512.6 1354.3,514.2 1354.9,514.4 1355.5,498.7 1355.9,493.5 1356.1,494.8 1356.7,514.4 1357.3,514.5 1357.9,512.7 1358.5,514.5 1359.1,513.9 1359.7,515.0 1360.3,513.1 1360.9,509.1 1361.0,509.0 1361.5,511.1 1362.1,513.6 1362.7,514.1 1363.3,514.3 1363.9,513.4 1364.5,513.8 1365.1,514.0 1365.7,513.8 1366.3,513.7 1366.9,511.6 1367.5,514.7 1368.1,511.8 1368.7,514.0 1369.3,513.8 1369.9,514.1 1370.5,514.4 1371.1,514.5 1371.7,514.6 1372.3,514.3 1372.9,514.4 1373.5,514.3 1374.1,513.9 1374.7,514.4 1375.3,514.5 1375.9,514.3 1376.5,514.4 1377.1,514.7 1377.7,514.6 1378.3,514.5 1378.9,514.6 1379.5,514.6 1380.1,514.5 1380.7,514.7 1381.3,514.6 1381.9,514.7 1382.5,514.7 1383.1,514.7 1383.7,514.5 1384.3,514.7 1384.9,514.3 1385.5,514.4 1386.1,514.6 1386.7,507.4 1387.0,506.2 1387.3,507.4 1387.9,514.7 1388.5,514.7 1389.1,514.3 1389.7,514.3 1390.3,514.6 1390.9,514.6 1391.5,514.5 1392.1,514.7 1392.7,514.1 1393.3,514.1 1393.9,514.5 1394.5,513.8 1395.1,514.0 1395.7,514.7 1396.3,514.7 1396.9,514.6 1397.5,514.5 1398.1,514.7 1398.7,514.3 1399.3,514.6 1399.9,514.7 1400.5,513.6 1401.1,514.6 1401.7,514.7 1402.3,514.7 1402.9,514.5 1403.5,514.6 1404.1,514.7 1404.7,514.5 1405.3,514.5 1405.9,514.8 1406.5,514.5 1407.1,514.8 1407.7,514.6 1408.3,514.8 1408.9,514.8 1409.6,523.3"/>
<polygon fill="#000" stroke-width="0.9" points="113.5,1104.7 113.5,1101.5 114.1,1096.5 114.7,1097.8 115.3,1099.9 115.9,1099.3 116.5,1100.4 117.1,1098.4 117.7,1099.9 118.3,1101.0 118.9,1100.0 119.5,1097.6 120.1,1097.7 120.7,1098.6 121.3,1100.3 121.9,1100.3 122.5,1100.0 123.1,1098.1 123.7,1099.9 124.3,1098.6 124.9,1100.7 125.5,1100.2 126.1,1099.6 126.7,1099.0 127.3,1100.2 127.9,1099.6 128.5,1095.7 129.1,1098.9 129.7,1088.2 130.3,1088.2 130.9,1088.2 131.5,1099.7 132.1,1096.8 132.7,1098.4 133.3,1097.1 133.9,1096.7 134.5,1098.7 135.1,1100.3 135.7,1097.8 136.3,1100.2 136.9,1101.5 137.5,1100.4 138.1,1100.1 138.7,1099.7 139.3,1098.8 139.9,1098.6 140.5,1099.7 141.1,1100.6 141.7,1098.5 142.3,1100.1 142.9,1098.2 143.5,1098.1 144.1,1100.3 144.7,1099.6 145.3,1099.0 145.9,1097.8 146.5,1098.8 147.1,1100.5 147.7,1100.0 148.3,1098.4 148.9,1099.0 149.5,1100.4 150.1,1096.7 150.7,1099.9 151.3,1100.8 151.9,1099.1 152.5,1099.6 153.1,1099.0 153.7,1098.3 154.3,1096.0 154.9,1101.4 155.5,1097.8 156.1,1099.5 156.7,1099.2 157.3,1100.3 157.9,1100.3 158.5,1099.2 159.1,1099.9 159.7,1098.5 160.3,1099.4 160.9,1099.9 161.5,1098.6 162.1,1096.7 162.7,1097.7 163.3,1100.1 163.9,1099.5 164.5,1099.6 165.1,1096.6 165.7,1098.0 166.3,1098.3 166.9,1097.4 167.5,1099.1 168.1,1099.0 168.7,1099.5 169.3,1097.3 169.9,1098.0 170.5,1099.8 171.1,1100.0 171.7,1098.3 172.3,1099.7 172.9,1099.8 173.5,1098.7 174.1,1099.8 174.7,1100.1 175.3,1098.7 175.9,1099.4 176.5,1097.3 177.1,1100.9 177.7,1099.2 178.3,1099.6 178.9,1099.2 179.5,1099.5 180.1,1098.3 180.7,1100.2 181.3,1099.8 181.9,1098.6 182.5,1099.0 183.1,1099.0 183.7,1098.6 184.3,1097.3 184.9,1098.3 185.5,1098.3 186.1,1100.1 186.7,1096.3 187.3,1098.6 187.9,1098.0 188.5,1099.7 189.1,1099.4 189.7,1098.0 190.3,1098.2 190.9,1100.6 191.5,1097.5 192.1,1097.3 192.7,1099.0 193.3,1100.7 193.9,1098.9 194.5,1099.4 195.1,1099.4 195.7,1100.3 196.3,1099.7 196.9,1096.2 197.5,1095.4 198.1,1098.6 198.7,1099.3 199.3,1099.1 199.9,1100.6 200.5,1100.6 201.1,1099.1 201.7,1097.2 202.3,1099.3 202.9,1100.7 203.5,1099.9 204.1,1099.1 204.7,1101.1 205.3,1100.3 205.9,1097.7 206.5,1097.4 207.1,1099.6 207.7,1098.3 208.3,1099.2 208.9,1099.1 209.5,1098.5 210.1,1098.9 210.7,1099.7 211.3,1099.2 211.9,1098.1 212.5,1098.4 213.1,1097.8 213.7,1099.0 214.3,1098.8 214.9,1098.9 215.5,1098.3 216.1,1099.4 216.7,1100.1 217.3,1097.8 217.9,1100.2 218.5,1098.2 219.1,1100.3 219.7,1100.3 220.3,1096.8 220.9,1098.7 221.5,1098.2 222.1,1099.2 222.7,1099.5 223.3,1099.8 223.9,1098.0 224.5,1098.0 225.1,1096.6 225.7,1098.5 226.3,1099.4 226.9,1098.5 227.5,1100.4 228.1,1100.1 228.7,1098.4 229.3,1100.3 229.9,1100.4 230.5,1098.5 231.1,1097.4 231.7,1098.1 232.3,1097.8 232.9,1097.8 233.5,1100.0 234.1,1099.3 234.7,1097.2 235.3,1099.2 235.9,1097.9 236.5,1098.0 237.1,1098.8 237.7,1098.9 238.3,1097.6 238.9,1100.2 239.5,1101.0 240.1,1098.8 240.7,1099.5 241.3,1100.0 241.9,1100.5 242.5,1099.5 243.1,1100.7 243.7,1100.3 244.3,1101.8 244.9,1098.4 245.5,1100.1 246.1,1099.5 246.7,1099.5 247.3,1098.7 247.9,1099.7 248.5,1099.3 249.1,1099.3 249.7,1097.7 250.3,1098.0 250.9,1098.9 251.5,1098.1 252.1,1098.9 252.7,1098.2 253.3,1098.3 253.9,1099.5 254.5,1098.8 255.1,1099.9 255.7,1098.1 256.3,1096.7 256.9,1099.2 257.5,1101.1 258.1,1098.6 258.7,1100.6 259.3,1095.8 259.9,1099.2 260.5,1099.4 261.1,1099.7 261.7,1097.8 262.3,1100.2 262.9,1100.7 263.5,1100.0 264.1,1098.7 264.7,1101.4 265.3,1099.1 265.9,1099.7 266.5,1100.3 267.1,1099.7 267.7,1100.0 268.3,1099.8 268.9,1099.4 269.5,1099.6 270.1,1099.5 270.7,1100.5 271.3,1099.7 271.9,1099.3 272.5,1099.3 273.1,1099.0 273.7,1098.3 274.3,1099.8 274.9,1099.9 275.5,1098.5 276.1,1099.5 276.7,1099.5 277.3,1099.5 277.9,1099.6 278.5,1099.6 279.1,1099.4 279.7,1099.5 280.3,1098.2 280.9,1099.2 281.5,1097.5 282.1,1098.6 282.7,1099.3 283.3,1098.8 283.9,1099.0 284.5,1101.1 285.1,1099.9 285.7,1099.4 286.3,1098.3 286.9,1099.0 287.5,1100.5 288.1,1100.2 288.7,1099.9 289.3,1099.0 289.9,1099.3 290.5,1099.9 291.1,1101.3 291.7,1099.9 292.3,1101.1 292.9,1100.2 293.5,1100.0 294.1,1100.3 294.7,1100.7 295.3,1101.3 295.9,1100.2 296.5,1098.9 297.1,1098.9 297.7,1099.4 298.3,1097.6 298.9,1100.1 299.5,1099.5 300.1,1099.0 300.7,1100.0 301.3,1097.2 301.9,1098.2 302.5,1097.8 303.1,1092.5 303.7,1092.5 304.3,1092.5 304.9,1101.3 305.5,1100.6 306.1,1098.7 306.7,1101.2 307.3,1100.0 307.9,1099.8 308.5,1100.8 309.1,1099.2 309.7,1100.3 310.3,1099.0 310.9,1099.7 311.5,1099.5 312.1,1100.4 312.7,1100.3 313.3,1101.0 313.9,1098.3 314.5,1099.6 315.1,1098.3 315.7,1100.6 316.3,1099.8 316.9,1099.6 317.5,1100.0 318.1,1100.5 318.7,1100.6 319.3,1099.8 319.9,1098.0 320.5,1101.0 321.1,1099.1 321.7,1100.4 322.3,1099.4 322.9,1099.1 323.5,1099.7 324.1,1099.0 324.7,1101.1 325.3,1096.8 325.9,1101.2 326.5,1099.6 327.1,1100.4 327.7,1097.7 328.3,1098.9 328.9,1099.2 329.5,1099.6 330.1,1100.1 330.7,1098.1 331.3,1099.7 331.9,1096.7 332.5,1101.5 333.1,1099.3 333.7,1098.8 334.3,1084.0 334.9,1084.0 335.5,1084.0 336.1,1098.7 336.7,1100.0 337.3,1100.9 337.9,1098.1 338.5,1084.0 339.1,1084.0 339.7,1084.0 340.3,1098.9 340.9,1100.4 341.5,1100.4 342.1,1100.8 342.7,1097.9 343.3,1100.3 343.9,1098.7 344.5,1099.7 345.1,1099.3 345.7,1099.6 346.3,1099.1 346.9,1100.4 347.5,1099.8 348.1,1100.7 348.7,1098.0 349.3,1099.7 349.9,1100.7 350.5,1098.8 351.1,1098.9 351.7,1097.4 352.3,1099.9 352.9,1095.8 353.5,1099.0 354.1,1099.0 354.7,1099.1 355.3,1098.9 355.9,1099.8 356.5,1088.0 357.1,1088.0 357.7,1088.0 358.3,1099.8 358.9,1097.9 359.5,1100.4 360.1,1099.6 360.7,1099.7 361.3,1100.9 361.9,1099.4 362.5,1099.8 363.1,1099.8 363.7,1098.8 364.3,1100.2 364.9,1099.0 365.5,1100.0 366.1,1099.3 366.7,1098.7 367.3,1097.8 367.9,1099.2 368.5,1099.9 369.1,1100.8 369.7,1098.9 370.3,1099.3 370.9,1099.7 371.5,1100.0 372.1,1099.6 372.7,1099.7 373.3,1099.4 373.9,1099.2 374.5,1096.9 375.1,1100.5 375.7,1097.9 376.3,1098.9 376.9,1098.9 377.5,1100.2 378.1,1098.9 378.7,1100.4 379.3,1099.1 379.9,1099.6 380.5,1099.2 381.1,1099.1 381.7,1099.2 382.3,1098.7 382.9,1099.0 383.5,1100.4 384.1,1100.2 384.7,1101.5 385.3,1099.6 385.9,1099.1 386.5,1099.0 387.1,1098.1 387.7,1099.1 388.3,1100.3 388.9,1100.1 389.5,1098.7 390.1,1100.0 390.7,1099.6 391.3,1098.4 391.9,1095.3 392.5,1097.8 393.1,1101.3 393.7,1096.5 394.3,1098.4 394.9,1100.3 395.5,1100.2 396.1,1099.9 396.7,1098.7 397.3,1099.2 397.9,1100.4 398.5,1099.3 399.1,1099.6 399.7,1099.4 400.3,1100.4 400.9,1098.0 401.5,1100.2 402.1,1098.4 402.7,1099.4 403.3,1100.5 403.9,1098.5 404.5,1099.5 405.1,1099.9 405.7,1100.3 406.3,1098.4 406.9,1097.0 407.5,1099.8 408.1,1099.2 408.7,1099.6 409.3,1099.2 409.9,1096.8 410.5,1095.8 411.1,1095.8 411.7,1095.8 412.3,1096.6 412.9,1099.9 413.5,1097.7 414.1,1100.5 414.7,1099.3 415.3,1100.4 415.9,1099.8 416.5,1099.8 417.1,1099.3 417.7,1099.4 418.3,1100.6 418.9,1099.6 419.5,1099.4 420.1,1096.0 420.7,1096.0 421.3,1096.0 421.9,1098.7 422.5,1097.4 423.1,1100.0 423.7,1100.2 424.3,1099.9 424.9,1099.9 425.5,1099.7 426.1,1100.2 426.7,1098.4 427.3,1100.9 427.9,1098.1 428.5,1098.9 429.1,1099.7 429.7,1099.2 430.3,1098.7 430.9,1096.7 431.5,1098.6 432.1,1099.2 432.7,1095.0 433.3,1095.0 433.9,1095.0 434.5,1099.2 435.1,1101.5 435.7,1099.8 436.3,1099.8 436.9,1098.8 437.5,1099.7 438.1,1100.6 438.7,1099.9 439.3,1099.7 439.9,1101.6 440.5,1099.3 441.1,1096.4 441.7,1099.1 442.3,1099.8 442.9,1098.6 443.5,1101.5 444.1,1099.4 444.7,1100.9 445.3,1099.5 445.9,1098.7 446.5,1100.7 447.1,1098.5 447.7,1098.6 448.3,1099.3 448.9,1100.4 449.5,1099.0 450.1,1099.1 450.7,1100.5 451.3,1099.5 451.9,1100.3 452.5,1095.7 453.1,1100.2 453.7,1099.5 454.3,1100.1 454.9,1100.2 455.5,1098.6 456.1,1100.0 456.7,1101.3 457.3,1098.6 457.9,1100.6 458.5,1101.0 459.1,1098.6 459.7,1100.4 460.3,1099.5 460.9,1098.9 461.5,1099.9 462.1,1098.5 462.7,1099.6 463.3,1098.6 463.9,1099.2 464.5,1099.5 465.1,1097.9 465.7,1099.3 466.3,1098.2 466.9,1096.4 467.5,1097.5 468.1,1095.6 468.7,1092.1 469.3,1085.8 469.9,1078.0 470.5,1071.7 471.1,1070.6 471.7,1069.9 472.3,1067.2 472.9,1065.5 473.5,1062.3 474.1,1060.4 474.7,1061.9 475.3,1065.6 475.9,1069.8 476.5,1072.5 477.1,1075.7 477.7,1077.5 478.3,1080.8 478.9,1085.7 479.5,1088.5 480.1,1090.5 480.7,1092.2 481.3,1092.1 481.9,1091.1 482.5,1090.8 483.1,1090.4 483.7,1090.4 484.3,1092.0 484.9,1093.8 485.5,1094.4 486.1,1095.2 486.7,1095.8 487.3,1095.7 487.9,1096.3 488.5,1096.9 489.1,1096.3 489.7,1096.7 490.3,1097.9 490.9,1097.8 491.5,1098.1 492.1,1097.1 492.7,1097.2 493.3,1097.6 493.9,1098.9 494.5,1098.1 495.1,1098.7 495.7,1098.5 496.3,1099.8 496.9,1099.0 497.5,1101.2 498.1,1098.8 498.7,1099.7 499.3,1098.2 499.9,1099.0 500.5,1099.3 501.1,1100.5 501.7,1100.9 502.3,1100.5 502.9,1100.9 503.5,1100.7 504.1,1100.7 504.7,1100.7 505.3,1094.5 505.9,1094.5 506.5,1094.5 507.1,1101.4 507.7,1097.9 508.3,1100.8 508.9,1100.2 509.5,1100.0 510.1,1100.5 510.7,1101.0 511.3,1098.7 511.9,1100.8 512.5,1100.3 513.1,1099.6 513.7,1099.3 514.3,1097.9 514.9,1100.0 515.5,1099.9 516.1,1099.0 516.7,1097.9 517.3,1100.7 517.9,1099.8 518.5,1099.3 519.1,1098.9 519.7,1099.9 520.3,1101.1 520.9,1096.6 521.5,1097.9 522.1,1100.4 522.7,1100.7 523.3,1099.7 523.9,1099.2 524.5,1097.5 525.1,1101.5 525.7,1099.6 526.3,1100.5 526.9,1100.9 527.5,1100.2 528.1,1099.0 528.7,1098.4 529.3,1099.4 529.9,1098.2 530.5,1098.2 531.1,1099.7 531.7,1100.3 532.3,1101.0 532.9,1098.6 533.5,1101.3 534.1,1099.9 534.7,1099.9 535.3,1100.9 535.9,1100.3 536.5,1099.1 537.1,1099.3 537.7,1099.8 538.3,1100.6 538.9,1098.0 539.5,1100.5 540.1,1099.8 540.7,1099.8 541.3,1099.0 541.9,1100.1 542.5,1101.1 543.1,1100.0 543.7,1100.7 544.3,1101.6 544.9,1099.0 545.5,1101.2 546.1,1098.6 546.7,1101.7 547.3,1101.1 547.9,1100.7 548.5,1099.6 549.1,1098.9 549.7,1098.7 550.3,1099.2 550.9,1098.9 551.5,1100.8 552.1,1100.4 552.7,1099.2 553.3,1100.0 553.9,1098.5 554.5,1100.2 555.1,1099.5 555.7,1099.6 556.3,1099.7 556.9,1098.8 557.5,1098.2 558.1,1099.8 558.7,1101.7 559.3,1099.8 559.9,1099.8 560.5,1100.2 561.1,1097.4 561.7,1100.9 562.3,1097.6 562.9,1100.5 563.5,1099.0 564.1,1095.0 564.7,1095.0 565.3,1095.0 565.9,1100.8 566.5,1100.3 567.1,1099.2 567.7,1099.0 568.3,1099.4 568.9,1100.6 569.5,1100.1 570.1,1098.8 570.7,1099.5 571.3,1098.6 571.9,1099.2 572.5,1099.1 573.1,1100.4 573.7,1101.5 574.3,1099.6 574.9,1101.4 575.5,1097.4 576.1,1099.5 576.7,1098.7 577.3,1099.3 577.9,1099.8 578.5,1099.4 579.1,1099.6 579.7,1098.1 580.3,1099.7 580.9,1098.7 581.5,1097.7 582.1,1101.2 582.7,1101.1 583.3,1099.2 583.9,1101.5 584.5,1099.9 585.1,1099.5 585.7,1101.6 586.3,1098.7 586.9,1097.5 587.5,1100.0 588.1,1100.7 588.7,1099.4 589.3,1101.5 589.9,1100.3 590.5,1099.7 591.1,1099.0 591.7,1101.1 592.3,1098.3 592.9,1100.6 593.5,1100.0 594.1,1099.4 594.7,1099.1 595.3,1100.3 595.9,1100.9 596.5,1101.5 597.1,1101.4 597.7,1099.2 598.3,1098.8 598.9,1100.2 599.5,1100.6 600.1,1099.3 600.7,1099.2 601.3,1101.5 601.9,1097.5 602.5,1100.0 603.1,1100.1 603.7,1100.1 604.3,1100.2 604.9,1099.7 605.5,1099.3 606.1,1100.7 606.7,1100.2 607.3,1101.4 607.9,1099.3 608.5,1099.3 609.1,1099.0 609.7,1096.4 610.3,1097.8 610.9,1099.1 611.5,1098.2 612.1,1096.5 612.7,1100.2 613.3,1100.3 613.9,1101.0 614.5,1099.7 615.1,1101.4 615.7,1100.5 616.3,1096.0 616.9,1100.7 617.5,1101.3 618.1,1100.4 618.7,1096.3 619.3,1100.9 619.9,1099.7 620.5,1100.0 621.1,1099.4 621.7,1099.8 622.3,1099.5 622.9,1099.6 623.5,1101.1 624.1,1100.9 624.7,1099.6 625.3,1101.1 625.9,1100.5 626.5,1099.3 627.1,1100.6 627.7,1099.8 628.3,1101.2 628.9,1097.8 629.5,1101.3 630.1,1100.7 630.7,1100.7 631.3,1100.8 631.9,1100.0 632.5,1101.2 633.1,1098.3 633.7,1098.8 634.3,1100.5 634.9,1095.4 635.5,1098.8 636.1,1101.0 636.7,1101.3 637.3,1101.1 637.9,1101.3 638.5,1097.0 639.1,1101.4 639.7,1097.3 640.3,1101.3 640.9,1097.9 641.5,1100.1 642.1,1100.0 642.7,1100.0 643.3,1101.8 643.9,1099.3 644.5,1098.8 645.1,1101.1 645.7,1100.3 646.3,1099.1 646.9,1099.7 647.5,1101.5 648.1,1101.9 648.7,1100.8 649.3,1099.8 649.9,1101.5 650.5,1099.7 651.1,1100.3 651.7,1100.2 652.3,1100.3 652.9,1099.8 653.5,1096.0 654.1,1096.0 654.7,1096.0 655.3,1098.7 655.9,1100.4 656.5,1100.4 657.1,1100.7 657.7,1100.3 658.3,1098.7 658.9,1101.1 659.5,1098.4 660.1,1100.1 660.7,1099.9 661.3,1096.5 661.9,1096.5 662.5,1096.5 663.1,1100.1 663.7,1098.6 664.3,1097.9 664.9,1100.2 665.5,1099.6 666.1,1099.5 666.7,1100.3 667.3,1100.4 667.9,1100.2 668.5,1099.6 669.1,1102.6 669.7,1101.0 670.3,1101.9 670.9,1099.7 671.5,1099.0 672.1,1099.9 672.7,1100.9 673.3,1095.0 673.9,1095.0 674.5,1095.0 675.1,1097.9 675.7,1101.4 676.3,1100.7 676.9,1099.7 677.5,1100.3 678.1,1099.0 678.7,1099.8 679.3,1095.5 679.9,1095.5 680.5,1095.5 681.1,1100.2 681.7,1101.3 682.3,1100.1 682.9,1102.6 683.5,1100.9 684.1,1100.3 684.7,1098.2 685.3,1101.4 685.9,1100.8 686.5,1095.5 687.1,1095.5 687.7,1095.5 688.3,1100.7 688.9,1098.0 689.5,1100.8 690.1,1100.0 690.7,1099.4 691.3,1097.9 691.9,1096.0 692.5,1097.4 693.1,1091.4 693.7,1084.8 694.3,1079.1 694.9,1074.5 695.5,1068.5 696.1,1075.2 696.7,1089.5 697.3,1090.6 697.9,1092.5 698.5,1091.6 699.1,1080.0 699.7,1079.9 700.3,1080.0 700.9,1092.5 701.5,1092.6 702.1,1092.6 702.7,1092.4 703.3,1091.7 703.9,1091.7 704.5,1089.0 705.1,1088.8 705.7,1089.0 706.3,1092.7 706.9,1093.3 707.5,1095.1 708.1,1095.1 708.7,1095.1 709.3,1096.0 709.9,1095.6 710.5,1095.1 711.1,1094.9 711.7,1095.7 712.3,1096.2 712.9,1095.9 713.5,1096.9 714.1,1095.5 714.7,1096.0 715.3,1096.2 715.9,1096.2 716.5,1096.7 717.1,1096.4 717.7,1096.3 718.3,1097.1 718.9,1096.7 719.5,1097.3 720.1,1097.4 720.7,1078.0 721.3,1078.0 721.9,1078.0 722.5,1097.6 723.1,1097.4 723.7,1098.4 724.3,1098.4 724.9,1097.7 725.5,1098.8 726.1,1099.6 726.7,1098.5 727.3,1098.8 727.9,1099.0 728.5,1099.1 729.1,1099.4 729.7,1100.2 730.3,1090.4 730.9,1090.4 731.5,1090.4 732.1,1101.4 732.7,1101.2 733.3,1099.8 733.9,1099.0 734.5,1094.0 735.1,1094.0 735.7,1094.0 736.3,1102.0 736.9,1099.4 737.5,1100.1 738.1,1099.6 738.7,1099.1 739.3,1098.4 739.9,1100.9 740.5,1102.0 741.1,1099.9 741.7,1100.0 742.3,1100.4 742.9,1099.2 743.5,1101.8 744.1,1102.0 744.7,1101.8 745.3,1100.3 745.9,1101.6 746.5,1098.9 747.1,1100.6 747.7,1100.3 748.3,1101.2 748.9,1100.4 749.5,1102.4 750.1,1100.7 750.7,1100.0 751.3,1101.8 751.9,1101.9 752.5,1101.2 753.1,1099.5 753.7,1101.2 754.3,1101.2 754.9,1100.1 755.5,1100.6 756.1,1099.6 756.7,1101.4 757.3,1099.9 757.9,1100.7 758.5,1101.8 759.1,1101.7 759.7,1097.9 760.3,1101.6 760.9,1102.1 761.5,1100.4 762.1,1099.6 762.7,1098.4 763.3,1101.1 763.9,1101.3 764.5,1100.8 765.1,1099.9 765.7,1099.4 766.3,1101.9 766.9,1101.5 767.5,1099.9 768.1,1097.8 768.7,1100.5 769.3,1099.9 769.9,1097.9 770.5,1101.7 771.1,1099.2 771.7,1100.5 772.3,1099.8 772.9,1100.9 773.5,1100.1 774.1,1097.9 774.7,1100.0 775.3,1100.9 775.9,1099.7 776.5,1099.9 777.1,1100.0 777.7,1100.2 778.3,1099.4 778.9,1099.1 779.5,1100.7 780.1,1100.4 780.7,1101.2 781.3,1101.4 781.9,1099.4 782.5,1096.8 783.1,1098.0 783.7,1100.8 784.3,1099.7 784.9,1100.1 785.5,1102.5 786.1,1100.7 786.7,1101.0 787.3,1099.5 787.9,1098.9 788.5,1100.9 789.1,1101.3 789.7,1100.6 790.3,1099.3 790.9,1101.6 791.5,1101.5 792.1,1101.1 792.7,1100.4 793.3,1099.9 793.9,1102.9 794.5,1099.3 795.1,1100.0 795.7,1099.4 796.3,1101.9 796.9,1102.7 797.5,1101.1 798.1,1100.9 798.7,1100.7 799.3,1097.4 799.9,1100.6 800.5,1100.9 801.1,1099.1 801.7,1100.8 802.3,1101.1 802.9,1099.7 803.5,1097.6 804.1,1100.4 804.7,1104.1 805.3,1100.3 805.9,1100.8 806.5,1102.3 807.1,1101.6 807.7,1098.7 808.3,1099.4 808.9,1100.7 809.5,1101.8 810.1,1099.4 810.7,1101.0 811.3,1101.4 811.9,1102.1 812.5,1101.4 813.1,1100.1 813.7,1100.9 814.3,1099.0 814.9,1100.2 815.5,1101.1 816.1,1100.7 816.7,1099.4 817.3,1101.5 817.9,1102.7 818.5,1101.0 819.1,1097.3 819.7,1100.8 820.3,1098.3 820.9,1100.1 821.5,1099.3 822.1,1102.2 822.7,1101.3 823.3,1101.5 823.9,1100.6 824.5,1100.7 825.1,1100.7 825.7,1099.0 826.3,1099.4 826.9,1101.2 827.5,1086.8 828.1,1086.8 828.7,1086.8 829.3,1100.4 829.9,1101.4 830.5,1101.0 831.1,1101.6 831.7,1100.8 832.3,1099.9 832.9,1100.5 833.5,1100.6 834.1,1099.8 834.7,1100.5 835.3,1101.1 835.9,1101.7 836.5,1100.8 837.1,1099.2 837.7,1101.1 838.3,1102.2 838.9,1100.8 839.5,1102.2 840.1,1100.6 840.7,1101.2 841.3,1100.4 841.9,1101.6 842.5,1102.7 843.1,1100.0 843.7,1101.3 844.3,1099.5 844.9,1101.2 845.5,1101.4 846.1,1100.8 846.7,1102.0 847.3,1100.0 847.9,1102.4 848.5,1101.4 849.1,1100.2 849.7,1100.1 850.3,1100.1 850.9,1101.5 851.5,1097.1 852.1,1101.4 852.7,1098.9 853.3,1103.1 853.9,1102.5 854.5,1100.7 855.1,1101.9 855.7,1100.1 856.3,1099.9 856.9,1100.8 857.5,1100.5 858.1,1100.1 858.7,1099.7 859.3,1101.7 859.9,1100.1 860.5,1102.0 861.1,1099.9 861.7,1100.0 862.3,1102.8 862.9,1101.6 863.5,1101.4 864.1,1101.2 864.7,1099.3 865.3,1100.5 865.9,1099.7 866.5,1099.2 867.1,1102.0 867.7,1099.7 868.3,1100.5 868.9,1100.1 869.5,1101.0 870.1,1100.7 870.7,1099.8 871.3,1101.7 871.9,1101.2 872.5,1101.9 873.1,1101.2 873.7,1102.0 874.3,1099.1 874.9,1100.3 875.5,1098.8 876.1,1100.6 876.7,1101.5 877.3,1101.4 877.9,1101.0 878.5,1098.9 879.1,1101.9 879.7,1099.4 880.3,1098.8 880.9,1100.3 881.5,1101.3 882.1,1102.5 882.7,1100.6 883.3,1101.5 883.9,1099.8 884.5,1098.6 885.1,1099.1 885.7,1101.2 886.3,1098.2 886.9,1102.9 887.5,1102.6 888.1,1100.0 888.7,1101.3 889.3,1100.7 889.9,1090.5 890.5,1090.5 891.1,1090.5 891.7,1101.6 892.3,1101.8 892.9,1100.8 893.5,1101.7 894.1,1096.0 894.7,1096.0 895.3,1096.0 895.9,1101.6 896.5,1101.0 897.1,1101.7 897.7,1100.4 898.3,1102.2 898.9,1099.6 899.5,1101.1 900.1,1097.9 900.7,1101.3 901.3,1103.1 901.9,1102.7 902.5,1101.3 903.1,1101.9 903.7,1100.4 904.3,1101.3 904.9,1095.5 905.5,1095.5 906.1,1095.5 906.7,1099.8 907.3,1100.6 907.9,1101.6 908.5,1101.5 909.1,1100.6 909.7,1101.8 910.3,1101.2 910.9,1101.1 911.5,1095.0 912.1,1095.0 912.7,1095.0 913.3,1100.1 913.9,1100.6 914.5,1099.8 915.1,1098.3 915.7,1101.9 916.3,1102.9 916.9,1101.7 917.5,1100.7 918.1,1101.4 918.7,1101.0 919.3,1099.7 919.9,1094.0 920.5,1094.0 921.1,1094.0 921.7,1102.0 922.3,1100.2 922.9,1095.0 923.5,1095.0 924.1,1095.0 924.7,1099.8 925.3,1102.5 925.9,1097.9 926.5,1102.0 927.1,1099.9 927.7,1100.4 928.3,1101.6 928.9,1097.8 929.5,1100.4 930.1,1092.5 930.7,1092.5 931.3,1092.5 931.9,1100.5 932.5,1101.6 933.1,1101.4 933.7,1100.8 934.3,1099.6 934.9,1100.7 935.5,1099.6 936.1,1102.8 936.7,1100.9 937.3,1100.1 937.9,1097.6 938.5,1103.6 939.1,1101.8 939.7,1099.2 940.3,1101.2 940.9,1100.4 941.5,1100.9 942.1,1098.9 942.7,1098.5 943.3,1099.7 943.9,1097.9 944.5,1101.7 945.1,1099.1 945.7,1102.2 946.3,1100.4 946.9,1100.2 947.5,1100.1 948.1,1102.0 948.7,1102.5 949.3,1097.4 949.9,1101.1 950.5,1099.7 951.1,1100.6 951.7,1100.2 952.3,1100.2 952.9,1102.0 953.5,1101.1 954.1,1098.8 954.7,1101.4 955.3,1101.3 955.9,1100.2 956.5,1099.2 957.1,1100.9 957.7,1100.4 958.3,1101.9 958.9,1102.4 959.5,1100.5 960.1,1098.7 960.7,1101.4 961.3,1098.8 961.9,1101.5 962.5,1100.0 963.1,1100.3 963.7,1101.3 964.3,1100.9 964.9,1100.9 965.5,1100.8 966.1,1100.5 966.7,1102.0 967.3,1102.2 967.9,1102.8 968.5,1102.6 969.1,1100.2 969.7,1102.3 970.3,1100.5 970.9,1100.7 971.5,1101.9 972.1,1102.0 972.7,1099.6 973.3,1103.2 973.9,1100.7 974.5,1100.7 975.1,1100.6 975.7,1102.1 976.3,1100.1 976.9,1100.0 977.5,1100.7 978.1,1101.4 978.7,1102.2 979.3,1101.6 979.9,1101.5 980.5,1100.5 981.1,1099.5 981.7,1102.4 982.3,1101.8 982.9,1101.4 983.5,1103.5 984.1,1100.8 984.7,1103.3 985.3,1099.7 985.9,1099.2 986.5,1101.4 987.1,1102.5 987.7,1102.2 988.3,1100.8 988.9,1101.5 989.5,1100.9 990.1,1102.5 990.7,1100.3 991.3,1101.2 991.9,1101.8 992.5,1097.5 993.1,1097.5 993.7,1097.5 994.3,1099.8 994.9,1101.9 995.5,1102.0 996.1,1100.8 996.7,1102.7 997.3,1100.3 997.9,1100.6 998.5,1096.0 999.1,1096.0 999.7,1096.0 1000.3,1101.5 1000.9,1100.9 1001.5,1103.5 1002.1,1102.3 1002.7,1098.4 1003.3,1101.4 1003.9,1100.8 1004.5,1100.2 1005.1,1099.5 1005.7,1100.9 1006.3,1103.2 1006.9,1101.8 1007.5,1100.2 1008.1,1102.2 1008.7,1101.1 1009.3,1101.5 1009.9,1099.3 1010.5,1100.9 1011.1,1102.9 1011.7,1102.2 1012.3,1099.1 1012.9,1102.1 1013.5,1100.0 1014.1,1101.4 1014.7,1101.1 1015.3,1101.3 1015.9,1101.9 1016.5,1101.7 1017.1,1101.6 1017.7,1104.3 1018.3,1101.6 1018.9,1101.1 1019.5,1102.4 1020.1,1102.0 1020.7,1102.6 1021.3,1100.5 1021.9,1101.4 1022.5,1101.1 1023.1,1101.5 1023.7,1102.7 1024.3,1100.4 1024.9,1098.9 1025.5,1098.7 1026.1,1101.2 1026.7,1101.1 1027.3,1101.0 1027.9,1101.2 1028.5,1101.2 1029.1,1100.7 1029.7,1101.3 1030.3,1100.7 1030.9,1101.8 1031.5,1101.3 1032.1,1098.3 1032.7,1101.0 1033.3,1101.8 1033.9,1100.9 1034.5,1100.6 1035.1,1101.0 1035.7,1098.4 1036.3,1101.9 1036.9,1100.6 1037.5,1101.2 1038.1,1102.2 1038.7,1102.0 1039.3,1100.3 1039.9,1101.3 1040.5,1100.1 1041.1,1102.3 1041.7,1101.9 1042.3,1099.7 1042.9,1102.6 1043.5,1100.0 1044.1,1101.5 1044.7,1102.3 1045.3,1101.5 1045.9,1100.1 1046.5,1101.8 1047.1,1100.3 1047.7,1100.3 1048.3,1102.1 1048.9,1101.4 1049.5,1099.1 1050.1,1102.4 1050.7,1101.4 1051.3,1101.0 1051.9,1097.0 1052.5,1097.0 1053.1,1097.0 1053.7,1101.2 1054.3,1101.3 1054.9,1101.1 1055.5,1100.6 1056.1,1100.9 1056.7,1098.5 1057.3,1102.2 1057.9,1103.8 1058.5,1102.8 1059.1,1101.8 1059.7,1102.1 1060.3,1101.5 1060.9,1101.4 1061.5,1102.2 1062.1,1100.2 1062.7,1100.1 1063.3,1101.5 1063.9,1102.2 1064.5,1101.5 1065.1,1102.1 1065.7,1101.2 1066.3,1102.0 1066.9,1103.6 1067.5,1101.8 1068.1,1103.8 1068.7,1101.6 1069.3,1101.2 1069.9,1102.8 1070.5,1101.5 1071.1,1102.1 1071.7,1102.2 1072.3,1102.8 1072.9,1101.1 1073.5,1101.8 1074.1,1100.8 1074.7,1101.3 1075.3,1098.1 1075.9,1103.6 1076.5,1101.0 1077.1,1100.5 1077.7,1100.1 1078.3,1101.2 1078.9,1101.6 1079.5,1102.3 1080.1,1102.7 1080.7,1101.6 1081.3,1102.4 1081.9,1100.9 1082.5,1101.2 1083.1,1101.9 1083.7,1101.1 1084.3,1103.4 1084.9,1101.0 1085.5,1102.5 1086.1,1102.7 1086.7,1101.0 1087.3,1103.0 1087.9,1101.6 1088.5,1101.3 1089.1,1101.0 1089.7,1102.5 1090.3,1102.6 1090.9,1100.6 1091.5,1102.3 1092.1,1101.0 1092.7,1100.7 1093.3,1102.8 1093.9,1102.1 1094.5,1101.2 1095.1,1102.3 1095.7,1102.4 1096.3,1101.3 1096.9,1102.0 1097.5,1102.9 1098.1,1103.5 1098.7,1100.0 1099.3,1101.8 1099.9,1101.7 1100.5,1100.9 1101.1,1101.6 1101.7,1101.9 1102.3,1102.6 1102.9,1101.4 1103.5,1101.0 1104.1,1103.4 1104.7,1100.6 1105.3,1102.2 1105.9,1101.7 1106.5,1102.4 1107.1,1102.2 1107.7,1101.1 1108.3,1102.7 1108.9,1102.1 1109.5,1103.2 1110.1,1101.3 1110.7,1103.0 1111.3,1100.2 1111.9,1102.8 1112.5,1101.4 1113.1,1102.9 1113.7,1099.6 1114.3,1100.9 1114.9,1101.9 1115.5,1102.3 1116.1,1100.8 1116.7,1102.7 1117.3,1102.4 1117.9,1101.0 1118.5,1101.4 1119.1,1101.0 1119.7,1102.3 1120.3,1099.3 1120.9,1100.2 1121.5,1100.4 1122.1,1100.5 1122.7,1102.9 1123.3,1102.5 1123.9,1102.0 1124.5,1102.2 1125.1,1101.8 1125.7,1102.8 1126.3,1100.7 1126.9,1103.2 1127.5,1103.1 1128.1,1101.0 1128.7,1102.4 1129.3,1101.7 1129.9,1100.6 1130.5,1104.3 1131.1,1103.2 1131.7,1101.3 1132.3,1101.0 1132.9,1101.7 1133.5,1099.5 1134.1,1102.1 1134.7,1100.7 1135.3,1103.2 1135.9,1101.7 1136.5,1102.4 1137.1,1101.3 1137.7,1102.1 1138.3,1102.5 1138.9,1101.0 1139.5,1102.0 1140.1,1100.5 1140.7,1101.6 1141.3,1102.4 1141.9,1102.8 1142.5,1103.4 1143.1,1099.8 1143.7,1102.6 1144.3,1101.3 1144.9,1100.4 1145.5,1101.3 1146.1,1100.6 1146.7,1102.6 1147.3,1101.6 1147.9,1101.3 1148.5,1103.2 1149.1,1096.5 1149.7,1096.5 1150.3,1096.5 1150.9,1102.4 1151.5,1101.4 1152.1,1100.0 1152.7,1101.1 1153.3,1101.7 1153.9,1104.4 1154.5,1103.0 1155.1,1102.9 1155.7,1100.8 1156.3,1101.2 1156.9,1100.9 1157.5,1100.6 1158.1,1101.4 1158.7,1101.1 1159.3,1102.6 1159.9,1102.8 1160.5,1101.7 1161.1,1102.3 1161.7,1103.7 1162.3,1099.3 1162.9,1101.5 1163.5,1101.2 1164.1,1100.8 1164.7,1104.3 1165.3,1101.9 1165.9,1102.8 1166.5,1103.4 1167.1,1101.0 1167.7,1103.6 1168.3,1103.7 1168.9,1101.8 1169.5,1099.4 1170.1,1102.0 1170.7,1101.1 1171.3,1103.2 1171.9,1104.3 1172.5,1102.2 1173.1,1103.3 1173.7,1103.5 1174.3,1100.0 1174.9,1103.4 1175.5,1099.3 1176.1,1100.1 1176.7,1103.3 1177.3,1102.6 1177.9,1102.7 1178.5,1101.5 1179.1,1102.6 1179.7,1103.7 1180.3,1099.1 1180.9,1103.3 1181.5,1095.5 1182.1,1095.5 1182.7,1095.5 1183.3,1103.3 1183.9,1102.4 1184.5,1103.6 1185.1,1100.7 1185.7,1102.2 1186.3,1103.0 1186.9,1103.2 1187.5,1103.9 1188.1,1103.2 1188.7,1099.9 1189.3,1104.3 1189.9,1100.9 1190.5,1101.2 1191.1,1101.0 1191.7,1102.3 1192.3,1100.9 1192.9,1101.5 1193.5,1101.5 1194.1,1102.6 1194.7,1103.1 1195.3,1103.1 1195.9,1103.5 1196.5,1103.4 1197.1,1103.0 1197.7,1101.7 1198.3,1101.3 1198.9,1104.4 1199.5,1102.9 1200.1,1103.5 1200.7,1100.5 1201.3,1102.1 1201.9,1101.4 1202.5,1101.8 1203.1,1100.8 1203.7,1098.2 1204.3,1103.2 1204.9,1104.0 1205.5,1101.8 1206.1,1097.0 1206.7,1097.0 1207.3,1097.0 1207.9,1097.0 1208.5,1101.9 1209.1,1104.4 1209.7,1102.0 1210.3,1101.0 1210.9,1101.9 1211.5,1102.2 1212.1,1100.1 1212.7,1101.8 1213.3,1101.5 1213.9,1103.2 1214.5,1101.6 1215.1,1103.0 1215.7,1103.1 1216.3,1101.8 1216.9,1102.5 1217.5,1101.2 1218.1,1103.5 1218.7,1102.1 1219.3,1103.3 1219.9,1101.9 1220.5,1101.8 1221.1,1101.7 1221.7,1102.4 1222.3,1102.3 1222.9,1102.1 1223.5,1102.9 1224.1,1102.6 1224.7,1102.2 1225.3,1102.6 1225.9,1098.3 1226.5,1098.3 1227.1,1103.5 1227.7,1101.4 1228.3,1103.6 1228.9,1102.9 1229.5,1101.0 1230.1,1099.9 1230.7,1101.3 1231.3,1102.5 1231.9,1101.7 1232.5,1102.2 1233.1,1103.0 1233.7,1102.2 1234.3,1103.5 1234.9,1102.3 1235.5,1100.5 1236.1,1102.7 1236.7,1101.5 1237.3,1102.9 1237.9,1102.3 1238.5,1100.8 1239.1,1101.9 1239.7,1103.1 1240.3,1102.2 1240.9,1102.2 1241.5,1101.3 1242.1,1102.2 1242.7,1101.9 1243.3,1100.1 1243.9,1100.9 1244.5,1101.7 1245.1,1101.6 1245.7,1103.7 1246.3,1102.7 1246.9,1101.3 1247.5,1102.0 1248.1,1102.2 1248.7,1102.8 1249.3,1102.0 1249.9,1101.4 1250.5,1102.5 1251.1,1102.6 1251.7,1103.2 1252.3,1101.3 1252.9,1103.5 1253.5,1102.8 1254.1,1098.6 1254.7,1101.8 1255.3,1103.2 1255.9,1103.0 1256.5,1103.6 1257.1,1103.1 1257.7,1100.9 1258.3,1102.2 1258.9,1102.5 1259.5,1103.5 1260.1,1102.3 1260.7,1102.3 1261.3,1102.9 1261.9,1099.4 1262.5,1097.3 1263.1,1103.1 1263.7,1102.0 1264.3,1103.2 1264.9,1100.8 1265.5,1100.5 1266.1,1099.7 1266.7,1097.0 1267.3,1097.0 1267.9,1097.0 1268.5,1101.8 1269.1,1102.9 1269.7,1102.2 1270.3,1100.6 1270.9,1103.4 1271.5,1102.1 1272.1,1102.5 1272.7,1102.1 1273.3,1100.4 1273.9,1102.1 1274.5,1102.5 1275.1,1101.5 1275.7,1101.6 1276.3,1103.7 1276.9,1101.4 1277.5,1102.2 1278.1,1103.5 1278.7,1100.7 1279.3,1101.9 1279.9,1102.7 1280.5,1103.8 1281.1,1102.9 1281.7,1102.7 1282.3,1103.9 1282.9,1101.9 1283.5,1102.3 1284.1,1102.0 1284.7,1103.3 1285.3,1102.8 1285.9,1102.8 1286.5,1102.8 1287.1,1102.9 1287.7,1101.6 1288.3,1102.1 1288.9,1102.2 1289.5,1101.1 1290.1,1102.7 1290.7,1103.8 1291.3,1103.3 1291.9,1101.5 1292.5,1101.6 1293.1,1101.4 1293.7,1103.1 1294.3,1102.3 1294.9,1101.8 1295.5,1101.9 1296.1,1100.8 1296.7,1103.0 1297.3,1102.7 1297.9,1102.2 1298.5,1103.1 1299.1,1102.5 1299.7,1101.3 1300.3,1101.7 1300.9,1098.6 1301.5,1101.0 1302.1,1102.8 1302.7,1104.0 1303.3,1103.8 1303.9,1103.2 1304.5,1103.5 1305.1,1103.3 1305.7,1098.6 1306.3,1103.2 1306.9,1102.8 1307.5,1101.7 1308.1,1101.8 1308.7,1103.2 1309.3,1101.2 1309.9,1101.7 1310.5,1103.9 1311.1,1103.9 1311.7,1102.5 1312.3,1103.9 1312.9,1103.7 1313.5,1104.3 1314.1,1101.1 1314.7,1102.2 1315.3,1103.0 1315.9,1102.9 1316.5,1101.6 1317.1,1102.3 1317.7,1103.2 1318.3,1102.4 1318.9,1101.9 1319.5,1101.4 1320.1,1103.2 1320.7,1101.9 1321.3,1101.9 1321.9,1100.6 1322.5,1102.2 1323.1,1102.6 1323.7,1096.5 1324.3,1096.5 1324.9,1096.5 1325.5,1103.5 1326.1,1104.4 1326.7,1101.5 1327.3,1103.5 1327.9,1102.3 1328.5,1101.3 1329.1,1102.5 1329.7,1103.0 1330.3,1103.1 1330.9,1101.9 1331.5,1103.8 1332.1,1104.4 1332.7,1103.9 1333.3,1103.6 1333.9,1102.6 1334.5,1103.9 1335.1,1101.9 1335.7,1099.3 1336.3,1102.8 1336.9,1102.8 1337.5,1103.5 1338.1,1102.5 1338.7,1102.6 1339.3,1101.4 1339.9,1103.2 1340.5,1104.0 1341.1,1103.0 1341.7,1099.6 1342.3,1102.1 1342.9,1101.5 1343.5,1101.2 1344.1,1101.8 1344.7,1102.9 1345.3,1101.1 1345.9,1099.1 1346.5,1101.3 1347.1,1102.4 1347.7,1103.8 1348.3,1102.0 1348.9,1101.4 1349.5,1101.9 1350.1,1103.7 1350.7,1103.1 1351.3,1101.9 1351.9,1102.9 1352.5,1102.4 1353.1,1100.0 1353.7,1103.2 1354.3,1104.0 1354.9,1101.6 1355.5,1103.4 1356.1,1102.0 1356.7,1103.8 1357.3,1103.9 1357.9,1101.5 1358.5,1101.3 1359.1,1102.0 1359.7,1104.5 1360.3,1103.4 1360.9,1101.6 1361.5,1101.8 1362.1,1103.3 1362.7,1102.1 1363.3,1103.3 1363.9,1102.8 1364.5,1102.1 1365.1,1101.2 1365.7,1101.4 1366.3,1101.2 1366.9,1102.4 1367.5,1102.2 1368.1,1103.1 1368.7,1103.4 1369.3,1100.8 1369.9,1104.6 1370.5,1103.4 1371.1,1100.1 1371.7,1101.5 1372.3,1102.7 1372.9,1102.4 1373.5,1101.8 1374.1,1103.3 1374.7,1103.2 1375.3,1104.4 1375.9,1103.8 1376.5,1104.2 1377.1,1103.4 1377.7,1101.2 1378.3,1104.2 1378.9,1102.8 1379.5,1102.6 1380.1,1104.2 1380.7,1102.6 1381.3,1102.6 1381.9,1099.6 1382.5,1102.2 1383.1,1102.6 1383.7,1103.5 1384.3,1103.4 1384.9,1102.3 1385.5,1103.1 1386.1,1102.5 1386.7,1102.3 1387.3,1103.3 1387.9,1101.8 1388.5,1102.9 1389.1,1103.3 1389.7,1099.6 1390.3,1102.0 1390.9,1103.0 1391.5,1102.4 1392.1,1103.5 1392.7,1101.6 1393.3,1103.3 1393.9,1101.8 1394.5,1104.0 1395.1,1102.0 1395.7,1104.1 1396.3,1104.1 1396.9,1103.2 1397.5,1101.7 1398.1,1104.5 1398.7,1101.1 1399.3,1104.5 1399.9,1104.5 1400.5,1102.7 1401.1,1101.8 1401.7,1101.9 1402.3,1101.3 1402.9,1104.0 1403.5,1102.6 1404.1,1100.6 1404.7,1102.4 1405.3,1104.0 1405.9,1100.8 1406.5,1104.6 1407.1,1100.6 1407.7,1102.4 1408.3,1102.7 1408.9,1102.4 1409.5,1095.0 1410.1,1095.0 1410.7,1095.0 1411.3,1103.4 1411.9,1101.8 1412.5,1102.4 1413.1,1103.2 1413.7,1102.6 1414.3,1100.2 1414.9,1101.5 1415.5,1102.3 1416.1,1102.9 1416.7,1103.0 1417.3,1102.5 1417.9,1103.5 1418.5,1103.9 1419.1,1104.4 1419.7,1102.7 1419.8,1105.8"/>
<polyline stroke-width="1.7" points="113.5,1567.2 113.9,1568.8 114.3,1562.3 114.8,1572.5 115.2,1570.0 115.6,1567.1 116.0,1567.5 116.4,1559.9 116.9,1548.1 117.3,1568.4 117.7,1561.5 118.1,1563.1 118.5,1561.8 119.0,1573.2 119.4,1559.1 119.8,1563.6 120.2,1556.2 120.6,1564.5 121.1,1567.3 121.5,1567.1 121.9,1559.5 122.3,1557.4 122.7,1546.8 123.0,1545.0 123.2,1545.7 123.6,1554.0 124.0,1556.4 124.4,1566.7 124.8,1567.8 125.3,1556.9 125.7,1565.1 126.1,1567.1 126.5,1565.1 126.9,1561.9 127.4,1559.3 127.8,1574.1 128.2,1565.9 128.6,1563.9 129.0,1556.3 129.5,1549.8 129.9,1541.0 130.0,1540.5 130.3,1543.4 130.7,1557.1 131.1,1560.0 131.6,1549.6 132.0,1568.4 132.4,1575.6 132.8,1566.5 133.2,1567.4 133.7,1561.1 134.1,1547.0 134.5,1566.1 134.9,1566.7 135.3,1572.1 135.8,1557.8 136.2,1556.7 136.6,1574.9 137.0,1570.1 137.4,1566.9 137.9,1557.4 138.3,1567.4 138.7,1567.8 139.1,1556.8 139.5,1558.8 140.0,1568.9 140.4,1562.3 140.8,1557.1 141.2,1563.2 141.6,1562.3 142.1,1557.7 142.5,1568.8 142.9,1553.5 143.3,1543.8 143.7,1570.0 144.2,1559.0 144.6,1576.1 145.0,1573.1 145.4,1556.4 145.8,1561.4 146.3,1562.0 146.7,1573.7 147.1,1576.2 147.5,1562.6 147.9,1541.4 148.4,1526.2 148.8,1517.0 149.2,1514.0 149.2,1514.0 149.2,1514.0 149.6,1517.0 150.0,1526.2 150.5,1541.4 150.9,1562.8 151.3,1572.3 151.7,1568.6 152.1,1572.0 152.6,1569.4 153.0,1565.9 153.4,1573.5 153.8,1573.3 154.2,1575.4 154.7,1566.4 155.1,1576.1 155.5,1559.9 155.9,1569.7 156.3,1561.4 156.8,1564.0 157.2,1569.9 157.6,1565.6 158.0,1566.8 158.4,1526.6 158.9,1504.5 159.0,1503.0 159.3,1508.9 159.7,1540.0 160.1,1565.3 160.5,1559.1 161.0,1574.5 161.4,1562.1 161.8,1566.0 162.2,1573.6 162.6,1562.0 163.1,1567.4 163.5,1571.3 163.9,1567.1 164.3,1562.2 164.7,1563.9 165.2,1578.5 165.6,1576.5 166.0,1577.9 166.4,1551.4 166.8,1539.9 167.0,1539.0 167.3,1541.5 167.7,1556.1 168.1,1567.1 168.5,1578.8 168.9,1563.4 169.4,1558.1 169.8,1547.4 170.0,1546.0 170.2,1547.2 170.6,1557.4 171.0,1570.2 171.5,1577.5 171.9,1569.4 172.3,1563.9 172.7,1563.7 173.1,1579.3 173.6,1575.9 174.0,1569.9 174.4,1554.1 174.8,1563.0 175.2,1570.3 175.7,1569.7 176.1,1565.6 176.5,1566.6 176.9,1571.0 177.3,1573.3 177.8,1570.8 178.2,1568.3 178.6,1574.9 179.0,1575.1 179.4,1567.9 179.9,1579.9 180.3,1562.6 180.7,1572.0 181.1,1558.8 181.5,1553.6 181.6,1553.5 182.0,1556.5 182.4,1567.6 182.8,1563.4 183.2,1574.9 183.6,1563.6 184.1,1565.5 184.5,1573.7 184.9,1576.3 185.3,1575.5 185.7,1568.0 186.2,1576.2 186.6,1574.5 187.0,1570.7 187.4,1576.4 187.8,1570.2 188.3,1577.5 188.7,1564.1 189.1,1572.9 189.5,1573.0 189.9,1568.9 190.4,1568.9 190.8,1563.2 191.2,1571.5 191.6,1578.3 192.0,1568.3 192.5,1576.7 192.9,1570.3 193.3,1571.8 193.7,1564.5 194.1,1566.1 194.6,1573.6 195.0,1572.9 195.4,1568.4 195.8,1572.8 196.2,1569.6 196.7,1580.4 197.1,1571.4 197.5,1570.1 197.9,1560.6 198.3,1561.6 198.8,1558.8 199.2,1576.3 199.6,1573.7 200.0,1567.6 200.4,1581.1 200.9,1580.7 201.3,1573.9 201.7,1578.9 202.1,1573.2 202.5,1575.3 203.0,1578.2 203.4,1562.6 203.8,1575.3 204.2,1567.3 204.6,1568.9 205.1,1559.4 205.4,1557.0 205.5,1557.1 205.9,1562.2 206.3,1562.9 206.7,1577.4 207.2,1564.6 207.6,1569.9 208.0,1574.6 208.4,1579.2 208.8,1580.7 209.3,1566.3 209.7,1566.0 210.1,1580.5 210.5,1570.8 210.9,1567.3 211.4,1572.9 211.8,1576.8 212.2,1572.0 212.6,1570.1 213.0,1578.4 213.5,1582.0 213.9,1581.4 214.3,1567.8 214.7,1578.5 215.1,1576.8 215.6,1576.7 216.0,1561.1 216.4,1551.2 216.6,1550.0 216.8,1551.4 217.2,1561.9 217.7,1582.0 218.1,1565.1 218.5,1576.8 218.9,1579.6 219.3,1577.5 219.8,1572.2 220.2,1576.1 220.6,1573.4 221.0,1569.2 221.4,1579.6 221.9,1575.5 222.3,1573.0 222.7,1575.4 223.1,1574.2 223.5,1569.5 224.0,1562.8 224.4,1582.4 224.8,1580.1 225.2,1580.2 225.6,1582.6 226.1,1579.1 226.5,1581.8 226.9,1575.4 227.3,1576.9 227.7,1581.7 228.2,1574.6 228.6,1576.1 229.0,1576.3 229.4,1575.4 229.8,1577.8 230.3,1564.5 230.7,1549.1 231.0,1545.6 231.1,1545.9 231.5,1554.9 231.9,1569.3 232.4,1576.0 232.8,1564.6 233.2,1572.3 233.6,1579.7 234.0,1571.7 234.5,1575.9 234.9,1567.1 235.3,1571.2 235.7,1576.0 236.1,1577.1 236.6,1570.4 237.0,1568.3 237.4,1575.5 237.8,1564.8 238.2,1572.4 238.7,1568.0 239.1,1565.3 239.5,1552.2 239.8,1549.4 239.9,1549.8 240.3,1558.4 240.8,1570.5 241.2,1569.0 241.6,1580.4 242.0,1576.7 242.4,1568.9 242.9,1573.5 243.3,1571.7 243.7,1575.6 244.1,1564.1 244.5,1569.7 245.0,1577.5 245.4,1581.2 245.8,1577.4 246.2,1577.3 246.6,1579.3 247.1,1572.8 247.5,1565.1 247.9,1572.0 248.3,1568.1 248.7,1565.1 249.2,1582.3 249.6,1574.2 250.0,1572.0 250.4,1569.4 250.8,1548.4 251.3,1539.5 251.3,1539.4 251.7,1545.5 252.1,1566.5 252.5,1564.2 252.9,1563.9 253.4,1567.9 253.8,1575.7 254.2,1578.1 254.6,1572.8 255.0,1572.4 255.5,1577.7 255.9,1577.9 256.3,1569.3 256.7,1583.0 257.1,1571.1 257.6,1581.0 258.0,1582.6 258.4,1571.2 258.8,1570.8 259.2,1578.1 259.7,1569.4 260.1,1578.6 260.5,1569.7 260.9,1571.4 261.3,1551.5 261.8,1556.2 262.0,1554.7 262.2,1555.5 262.6,1564.0 263.0,1564.6 263.4,1576.0 263.9,1576.4 264.3,1583.8 264.7,1582.3 265.1,1572.1 265.5,1573.9 266.0,1571.8 266.4,1568.3 266.8,1577.6 267.2,1582.5 267.6,1583.1 268.1,1583.6 268.5,1575.5 268.9,1574.6 269.3,1571.2 269.7,1582.2 270.2,1562.2 270.6,1577.6 271.0,1574.2 271.4,1578.7 271.8,1550.7 272.3,1536.9 272.4,1536.0 272.7,1539.7 273.1,1559.0 273.5,1580.1 273.9,1583.4 274.4,1573.0 274.8,1579.2 275.2,1573.4 275.6,1576.3 276.0,1573.7 276.5,1583.7 276.9,1577.2 277.3,1573.8 277.7,1583.5 278.1,1572.8 278.6,1575.1 279.0,1573.0 279.4,1573.0 279.8,1579.9 280.2,1578.0 280.7,1578.2 281.1,1582.0 281.5,1570.9 281.9,1581.3 282.3,1578.4 282.8,1580.7 283.2,1579.1 283.6,1569.9 284.0,1574.1 284.4,1579.5 284.9,1574.6 285.3,1572.9 285.7,1584.3 286.1,1573.2 286.5,1569.7 287.0,1578.4 287.4,1574.9 287.8,1572.5 288.2,1577.4 288.6,1584.5 289.1,1577.8 289.5,1574.5 289.9,1568.1 290.3,1575.8 290.7,1579.1 291.2,1576.8 291.6,1579.9 292.0,1578.4 292.4,1571.5 292.8,1583.0 293.3,1572.0 293.7,1578.4 294.1,1584.5 294.5,1578.4 294.9,1577.2 295.4,1577.3 295.8,1579.6 296.2,1584.5 296.6,1562.2 297.0,1568.9 297.5,1576.1 297.9,1572.3 298.3,1578.3 298.7,1568.7 299.1,1571.3 299.6,1579.2 300.0,1571.8 300.4,1570.8 300.8,1581.9 301.2,1582.9 301.7,1577.4 302.1,1578.6 302.5,1578.1 302.9,1585.0 303.3,1583.9 303.8,1578.3 304.2,1577.4 304.6,1583.7 305.0,1574.8 305.4,1583.1 305.9,1584.3 306.3,1565.6 306.7,1577.3 307.1,1574.6 307.5,1576.2 308.0,1570.0 308.4,1564.2 308.8,1553.9 309.0,1552.7 309.2,1554.2 309.6,1565.0 310.1,1573.1 310.5,1578.5 310.9,1574.2 311.3,1573.0 311.7,1574.2 312.2,1581.0 312.6,1582.2 313.0,1584.8 313.4,1577.3 313.8,1575.5 314.3,1578.8 314.7,1579.6 315.1,1580.1 315.5,1571.2 315.9,1584.9 316.4,1584.7 316.8,1577.2 317.2,1572.2 317.6,1575.0 318.0,1584.6 318.5,1582.5 318.9,1584.3 319.3,1569.9 319.7,1559.7 320.0,1557.8 320.1,1558.3 320.6,1565.6 321.0,1574.5 321.4,1581.2 321.8,1577.0 322.2,1581.9 322.7,1576.1 323.1,1568.5 323.5,1574.2 323.9,1578.4 324.3,1580.9 324.8,1574.9 325.2,1578.8 325.6,1571.5 326.0,1578.6 326.4,1585.1 326.9,1558.0 327.3,1583.1 327.7,1576.2 328.1,1576.2 328.5,1577.1 329.0,1573.7 329.4,1578.8 329.8,1573.0 330.2,1571.7 330.6,1574.8 331.1,1575.8 331.5,1578.4 331.9,1556.3 332.3,1547.2 332.4,1547.0 332.7,1551.3 333.2,1568.5 333.6,1572.1 334.0,1577.5 334.4,1581.6 334.8,1585.4 335.3,1579.7 335.7,1580.6 336.1,1575.9 336.5,1575.7 336.9,1584.3 337.4,1566.1 337.8,1582.3 338.2,1578.1 338.6,1570.5 339.0,1580.5 339.5,1575.4 339.9,1571.9 340.3,1566.8 340.7,1578.4 341.1,1573.1 341.6,1568.0 342.0,1578.7 342.4,1581.6 342.8,1582.8 343.2,1567.4 343.7,1579.8 344.1,1578.1 344.5,1581.9 344.9,1579.6 345.3,1572.0 345.8,1575.2 346.2,1577.3 346.6,1577.4 347.0,1575.3 347.4,1569.2 347.9,1575.7 348.3,1576.4 348.7,1581.3 349.1,1585.5 349.5,1584.2 350.0,1581.3 350.4,1577.0 350.8,1578.8 351.2,1579.0 351.6,1578.2 352.1,1581.7 352.5,1582.6 352.9,1578.1 353.3,1581.4 353.7,1578.6 354.2,1572.7 354.6,1550.1 355.0,1542.5 355.0,1542.5 355.4,1550.1 355.8,1572.8 356.3,1579.2 356.7,1582.8 357.1,1577.2 357.5,1585.5 357.9,1582.4 358.4,1581.8 358.8,1578.6 359.2,1585.1 359.6,1577.3 360.0,1570.1 360.5,1561.0 360.7,1559.6 360.9,1560.4 361.3,1568.3 361.7,1575.2 362.1,1576.5 362.6,1583.9 363.0,1578.8 363.4,1578.1 363.8,1583.6 364.2,1578.0 364.7,1573.3 365.1,1581.2 365.5,1585.8 365.9,1580.4 366.3,1577.9 366.8,1585.2 367.2,1579.5 367.6,1582.4 368.0,1581.9 368.4,1583.3 368.9,1572.2 369.3,1581.5 369.7,1577.9 370.1,1578.6 370.5,1565.1 371.0,1560.0 371.0,1560.0 371.4,1563.5 371.8,1575.4 372.2,1576.2 372.6,1578.1 373.1,1584.1 373.5,1583.3 373.9,1583.9 374.3,1581.7 374.7,1577.9 375.2,1586.0 375.6,1586.3 376.0,1573.6 376.4,1572.9 376.8,1583.7 377.3,1574.3 377.7,1574.8 378.1,1570.1 378.5,1570.5 378.9,1583.0 379.4,1586.1 379.8,1584.6 380.2,1580.6 380.6,1574.4 381.0,1571.4 381.5,1579.4 381.9,1579.7 382.3,1581.4 382.7,1586.3 383.1,1585.6 383.6,1586.5 384.0,1586.4 384.4,1581.6 384.8,1582.9 385.2,1573.6 385.7,1579.4 386.1,1580.9 386.5,1572.9 386.9,1578.5 387.3,1573.2 387.8,1576.3 388.2,1579.5 388.6,1570.0 389.0,1573.8 389.4,1581.7 389.9,1581.2 390.3,1579.2 390.7,1583.9 391.1,1571.4 391.5,1586.4 392.0,1577.4 392.4,1580.5 392.8,1586.3 393.2,1577.8 393.6,1573.0 394.1,1576.8 394.5,1575.8 394.9,1575.6 395.3,1577.7 395.7,1581.0 396.2,1584.5 396.6,1582.9 397.0,1581.5 397.4,1586.3 397.8,1579.7 398.3,1585.9 398.7,1571.7 399.1,1557.2 399.5,1577.7 399.9,1579.3 400.4,1576.6 400.8,1583.3 401.2,1574.5 401.6,1585.6 402.0,1575.2 402.5,1583.1 402.9,1574.6 403.3,1583.6 403.7,1581.5 404.1,1580.3 404.6,1579.0 405.0,1574.0 405.4,1587.3 405.8,1584.5 406.2,1586.1 406.7,1577.0 407.1,1581.6 407.5,1573.2 407.9,1581.5 408.3,1578.6 408.8,1581.6 409.2,1578.3 409.6,1580.0 410.0,1582.3 410.4,1585.4 410.9,1579.4 411.3,1572.2 411.7,1560.3 412.0,1557.8 412.1,1558.2 412.5,1565.9 413.0,1580.8 413.4,1576.8 413.8,1583.9 414.2,1587.0 414.6,1582.2 415.1,1587.2 415.5,1587.2 415.9,1579.6 416.3,1575.6 416.7,1577.1 417.2,1583.6 417.6,1580.6 418.0,1587.1 418.4,1575.5 418.8,1575.3 419.3,1574.7 419.7,1574.1 420.1,1581.4 420.5,1579.6 420.9,1572.1 421.4,1587.2 421.8,1575.6 422.2,1588.0 422.6,1579.2 423.0,1576.9 423.5,1577.3 423.9,1581.3 424.3,1580.8 424.7,1586.0 425.1,1581.6 425.6,1587.1 426.0,1584.9 426.4,1587.1 426.8,1583.5 427.2,1556.2 427.7,1542.6 427.8,1541.7 428.1,1545.3 428.5,1547.8 428.9,1585.2 429.3,1586.0 429.8,1579.2 430.2,1576.4 430.6,1575.3 431.0,1576.6 431.4,1581.6 431.9,1584.6 432.3,1575.6 432.7,1580.4 433.1,1571.2 433.5,1566.3 434.0,1561.0 434.0,1561.0 434.4,1564.6 434.8,1577.1 435.2,1575.6 435.6,1585.9 436.1,1582.3 436.5,1588.6 436.9,1580.5 437.3,1575.1 437.7,1576.2 438.2,1582.4 438.6,1578.3 439.0,1585.3 439.4,1579.6 439.8,1580.1 440.3,1583.8 440.7,1584.0 441.1,1583.5 441.5,1583.3 441.9,1582.4 442.4,1582.7 442.8,1578.6 443.2,1581.2 443.6,1582.8 444.0,1580.1 444.5,1584.4 444.9,1582.8 445.3,1576.6 445.7,1578.1 446.1,1577.7 446.6,1577.1 447.0,1575.5 447.4,1562.1 447.8,1588.7 448.2,1587.4 448.7,1574.0 449.1,1587.9 449.5,1579.5 449.9,1583.4 450.3,1587.7 450.8,1572.1 451.2,1557.0 451.5,1553.5 451.6,1553.8 452.0,1562.7 452.4,1583.6 452.9,1581.4 453.3,1582.1 453.7,1581.9 454.1,1584.4 454.5,1583.9 455.0,1580.9 455.4,1586.2 455.8,1589.1 456.2,1588.1 456.6,1580.5 457.1,1580.7 457.5,1582.9 457.9,1587.0 458.3,1580.8 458.7,1588.5 459.2,1588.8 459.6,1575.8 460.0,1584.6 460.4,1579.3 460.8,1580.2 461.3,1581.3 461.7,1588.8 462.1,1586.3 462.5,1585.2 462.9,1578.8 463.4,1575.6 463.8,1582.6 464.2,1585.2 464.6,1588.2 465.0,1583.1 465.5,1579.9 465.9,1577.5 466.3,1575.9 466.7,1573.1 467.1,1584.1 467.6,1580.2 468.0,1581.8 468.4,1586.6 468.8,1580.4 469.2,1579.9 469.7,1571.5 470.1,1554.8 470.4,1551.0 470.5,1551.4 470.9,1561.1 471.3,1579.8 471.8,1577.0 472.2,1584.8 472.6,1579.5 473.0,1583.9 473.4,1581.2 473.9,1584.7 474.3,1584.2 474.7,1582.2 475.1,1588.4 475.5,1585.3 476.0,1581.2 476.4,1582.5 476.8,1580.8 477.2,1572.6 477.6,1552.5 478.0,1547.0 478.1,1547.2 478.5,1556.7 478.9,1581.1 479.3,1585.2 479.7,1577.9 480.2,1583.2 480.6,1585.4 481.0,1587.1 481.4,1583.6 481.8,1586.1 482.3,1587.5 482.7,1580.6 483.1,1583.1 483.5,1584.7 483.9,1586.3 484.4,1578.0 484.8,1581.0 485.2,1583.9 485.6,1581.4 486.0,1578.5 486.5,1581.7 486.9,1572.8 487.3,1569.8 487.3,1569.8 487.7,1572.8 488.1,1581.8 488.6,1587.6 489.0,1584.4 489.4,1581.8 489.8,1586.4 490.2,1576.7 490.7,1583.9 491.1,1585.2 491.5,1581.3 491.9,1579.1 492.3,1585.4 492.8,1578.9 493.2,1580.6 493.6,1570.6 494.0,1567.5 494.0,1567.5 494.4,1571.3 494.9,1582.0 495.3,1575.3 495.7,1583.7 496.1,1586.3 496.5,1582.7 497.0,1586.9 497.4,1582.0 497.8,1576.2 498.2,1578.8 498.6,1586.3 499.1,1583.0 499.5,1577.7 499.9,1583.0 500.3,1589.4 500.7,1581.6 501.2,1583.4 501.6,1577.5 502.0,1577.6 502.4,1583.6 502.8,1582.7 503.3,1580.4 503.7,1577.0 504.1,1579.6 504.5,1577.8 504.9,1581.1 505.4,1584.6 505.8,1582.0 506.2,1581.1 506.6,1582.6 507.0,1580.6 507.5,1582.5 507.9,1571.0 508.3,1561.5 508.5,1560.4 508.7,1561.7 509.1,1571.7 509.6,1576.2 510.0,1585.4 510.4,1582.6 510.8,1583.0 511.2,1582.9 511.7,1586.2 512.1,1580.6 512.5,1584.0 512.9,1588.1 513.3,1584.1 513.8,1581.5 514.2,1579.5 514.6,1585.4 515.0,1568.5 515.4,1559.4 515.6,1558.6 515.9,1560.6 516.3,1572.3 516.7,1580.2 517.1,1579.9 517.5,1583.6 518.0,1588.4 518.4,1575.7 518.8,1582.3 519.2,1588.0 519.6,1585.1 520.1,1577.8 520.5,1580.7 520.9,1581.6 521.3,1584.5 521.7,1585.8 522.2,1587.7 522.6,1587.1 523.0,1584.6 523.4,1589.6 523.8,1587.5 524.3,1583.4 524.7,1586.7 525.1,1571.9 525.5,1584.8 525.9,1586.9 526.4,1575.1 526.8,1585.4 527.2,1588.9 527.6,1589.1 528.0,1582.0 528.5,1582.2 528.9,1588.2 529.3,1577.5 529.7,1588.9 530.1,1581.8 530.6,1583.6 531.0,1586.9 531.4,1587.5 531.8,1581.8 532.2,1589.1 532.7,1574.2 533.1,1569.1 533.2,1568.8 533.5,1570.5 533.9,1578.3 534.3,1577.2 534.8,1586.1 535.2,1582.9 535.6,1583.0 536.0,1582.5 536.4,1579.9 536.9,1582.5 537.3,1585.0 537.7,1584.8 538.1,1567.4 538.5,1551.2 538.8,1548.4 539.0,1549.4 539.4,1562.2 539.8,1589.6 540.2,1581.8 540.6,1580.9 541.1,1577.9 541.5,1575.6 541.9,1584.1 542.3,1581.3 542.7,1590.0 543.2,1587.9 543.6,1582.6 544.0,1588.8 544.4,1589.7 544.8,1579.8 545.3,1582.2 545.7,1571.1 546.1,1552.5 546.2,1565.0 546.5,1567.3 546.9,1577.4 547.4,1585.4 547.8,1589.8 548.2,1581.4 548.6,1584.7 549.0,1586.7 549.5,1583.3 549.9,1588.6 550.3,1584.2 550.7,1585.6 551.1,1582.9 551.6,1571.5 552.0,1573.5 552.4,1580.1 552.8,1581.3 553.2,1584.2 553.7,1581.2 554.1,1583.7 554.5,1581.9 554.9,1584.2 555.3,1572.5 555.8,1584.9 556.2,1579.2 556.6,1586.9 557.0,1583.0 557.4,1586.2 557.9,1588.0 558.3,1579.3 558.7,1577.3 559.1,1582.3 559.5,1579.7 560.0,1582.4 560.4,1574.1 560.8,1571.3 560.8,1571.3 561.2,1574.1 561.6,1582.4 562.1,1583.6 562.5,1588.9 562.9,1582.7 563.3,1582.9 563.7,1590.1 564.2,1582.5 564.6,1586.4 565.0,1580.8 565.4,1589.6 565.8,1583.9 566.3,1585.5 566.7,1585.2 567.1,1586.3 567.5,1580.9 567.9,1582.4 568.4,1586.4 568.8,1586.4 569.2,1586.5 569.6,1580.9 570.0,1578.6 570.5,1578.6 570.9,1585.0 571.3,1584.4 571.7,1581.5 572.1,1581.0 572.6,1584.5 573.0,1587.4 573.4,1587.8 573.8,1586.6 574.2,1581.3 574.7,1583.1 575.1,1582.3 575.5,1583.0 575.9,1582.1 576.3,1579.4 576.8,1577.7 577.2,1584.0 577.6,1589.8 578.0,1589.5 578.4,1580.5 578.9,1578.6 579.3,1579.0 579.7,1588.6 580.1,1589.6 580.5,1589.3 581.0,1589.9 581.4,1587.2 581.8,1589.5 582.2,1580.2 582.6,1580.9 583.1,1587.8 583.5,1584.7 583.9,1581.1 584.3,1586.0 584.7,1588.0 585.2,1576.5 585.6,1585.1 586.0,1580.7 586.4,1581.2 586.8,1584.2 587.3,1585.4 587.7,1589.1 588.1,1579.6 588.5,1573.5 588.8,1572.3 588.9,1572.6 589.4,1577.0 589.8,1581.8 590.2,1589.5 590.6,1579.0 591.0,1582.6 591.5,1589.5 591.9,1582.0 592.3,1586.7 592.7,1584.5 593.1,1586.3 593.6,1589.9 594.0,1580.0 594.4,1580.6 594.8,1583.5 595.2,1573.3 595.7,1585.5 596.1,1585.8 596.5,1581.7 596.9,1585.7 597.3,1587.9 597.8,1588.1 598.2,1580.9 598.6,1572.8 599.0,1584.3 599.4,1587.6 599.9,1589.6 600.3,1590.0 600.7,1585.0 601.1,1582.2 601.5,1575.6 602.0,1577.8 602.4,1580.5 602.8,1585.3 603.2,1581.6 603.6,1584.8 604.1,1589.9 604.5,1587.6 604.9,1581.1 605.3,1584.3 605.7,1579.9 606.2,1585.7 606.6,1562.3 607.0,1582.9 607.4,1590.0 607.8,1589.1 608.3,1589.4 608.7,1584.2 609.1,1589.5 609.5,1583.8 609.9,1583.3 610.4,1584.4 610.8,1581.4 611.2,1576.6 611.6,1576.7 612.0,1586.1 612.5,1583.1 612.9,1585.5 613.3,1588.2 613.7,1589.3 614.1,1576.6 614.6,1569.1 614.8,1568.0 615.0,1568.6 615.4,1575.1 615.8,1589.7 616.2,1589.8 616.7,1586.0 617.1,1588.2 617.5,1585.4 617.9,1586.5 618.3,1587.7 618.8,1574.8 619.2,1566.6 619.4,1565.5 619.6,1566.4 620.0,1574.2 620.4,1584.2 620.9,1584.9 621.3,1583.5 621.7,1589.6 622.1,1581.8 622.5,1579.5 623.0,1570.3 623.3,1568.0 623.4,1568.1 623.8,1573.0 624.2,1577.2 624.6,1579.3 625.1,1590.2 625.5,1590.0 625.9,1577.3 626.3,1583.4 626.7,1570.1 627.2,1562.1 627.3,1561.6 627.6,1563.7 628.0,1574.8 628.4,1585.1 628.8,1583.5 629.3,1572.9 629.7,1582.4 630.1,1580.4 630.5,1585.8 630.9,1579.4 631.4,1579.1 631.8,1575.8 632.2,1575.6 632.6,1590.4 633.0,1589.0 633.5,1582.5 633.9,1580.2 634.3,1567.4 634.7,1563.4 634.7,1563.4 635.1,1568.3 635.6,1581.9 636.0,1590.1 636.4,1589.8 636.8,1588.5 637.2,1590.2 637.7,1584.8 638.1,1579.2 638.5,1590.0 638.9,1576.4 639.3,1576.8 639.8,1585.5 640.2,1582.1 640.6,1573.0 641.0,1590.2 641.4,1587.1 641.9,1587.3 642.3,1583.1 642.7,1583.0 643.1,1588.3 643.5,1583.6 644.0,1589.6 644.4,1581.8 644.8,1584.8 645.2,1589.0 645.6,1585.3 646.1,1583.2 646.5,1569.5 646.9,1562.7 647.0,1562.4 647.3,1565.1 647.7,1576.8 648.2,1581.6 648.6,1580.5 649.0,1586.1 649.4,1583.5 649.8,1587.3 650.3,1580.2 650.7,1582.7 651.1,1588.3 651.5,1590.1 651.9,1590.2 652.4,1586.5 652.8,1576.9 653.2,1579.5 653.6,1578.4 654.0,1589.0 654.5,1584.3 654.9,1590.0 655.3,1581.3 655.7,1586.5 656.1,1585.4 656.6,1580.3 657.0,1583.3 657.4,1582.2 657.8,1584.0 658.2,1577.7 658.7,1584.6 659.1,1583.8 659.5,1583.9 659.9,1579.1 660.3,1589.7 660.8,1584.6 661.2,1584.0 661.6,1580.7 662.0,1582.5 662.4,1576.6 662.8,1575.0 662.9,1575.0 663.3,1577.9 663.7,1585.0 664.1,1589.0 664.5,1589.5 665.0,1582.2 665.4,1586.4 665.8,1584.2 666.2,1590.1 666.6,1578.2 667.1,1584.0 667.5,1584.5 667.9,1580.0 668.3,1568.4 668.7,1565.0 668.7,1565.0 669.2,1570.0 669.6,1583.2 670.0,1585.3 670.4,1586.2 670.8,1573.7 671.3,1590.1 671.7,1581.0 672.1,1569.2 672.5,1565.5 672.5,1565.5 672.9,1570.0 673.4,1582.5 673.8,1584.4 674.2,1587.9 674.6,1581.0 675.0,1582.7 675.5,1579.4 675.9,1582.0 676.3,1589.9 676.7,1587.6 677.1,1580.8 677.6,1585.1 678.0,1582.7 678.4,1578.7 678.8,1582.4 679.2,1581.5 679.7,1580.4 680.1,1585.9 680.5,1578.3 680.9,1586.4 681.3,1585.3 681.8,1587.5 682.2,1580.8 682.6,1590.1 683.0,1588.6 683.4,1579.6 683.9,1586.0 684.3,1585.2 684.7,1589.6 685.1,1584.3 685.5,1587.2 686.0,1587.0 686.4,1578.6 686.8,1584.9 687.2,1580.7 687.6,1580.4 688.1,1583.8 688.5,1578.5 688.9,1579.2 689.3,1583.9 689.7,1586.2 690.2,1589.2 690.6,1581.5 691.0,1579.7 691.4,1579.7 691.8,1580.9 692.3,1562.4 692.7,1555.8 692.7,1555.8 693.1,1561.2 693.5,1578.6 693.9,1590.5 694.4,1590.4 694.8,1590.3 695.2,1577.3 695.6,1578.5 696.0,1581.6 696.5,1561.4 696.9,1530.1 697.2,1522.9 697.3,1523.6 697.7,1541.9 698.1,1583.3 698.6,1586.5 699.0,1576.9 699.4,1587.0 699.8,1587.7 700.2,1566.3 700.7,1537.7 701.0,1530.5 701.1,1530.9 701.5,1546.0 701.9,1577.5 702.3,1577.7 702.8,1569.4 703.2,1581.8 703.6,1578.2 704.0,1581.4 704.4,1586.0 704.9,1590.0 705.3,1588.4 705.7,1578.0 706.1,1580.3 706.5,1588.1 707.0,1585.2 707.4,1572.2 707.8,1562.7 708.0,1561.6 708.2,1562.9 708.6,1572.9 709.1,1581.6 709.5,1589.5 709.9,1591.0 710.3,1584.1 710.7,1584.7 711.2,1579.6 711.6,1584.3 712.0,1590.0 712.4,1586.9 712.8,1589.5 713.3,1590.6 713.7,1583.9 714.1,1584.8 714.5,1565.9 714.9,1554.4 715.1,1553.5 715.4,1556.0 715.8,1570.5 716.2,1580.3 716.6,1582.7 717.0,1584.9 717.5,1590.8 717.9,1588.3 718.3,1580.0 718.7,1586.1 719.1,1590.9 719.6,1576.9 720.0,1588.1 720.4,1577.7 720.8,1581.3 721.2,1578.5 721.7,1570.2 722.1,1581.2 722.5,1581.6 722.9,1587.9 723.3,1586.0 723.8,1567.1 724.2,1542.3 724.5,1536.6 724.6,1537.2 725.0,1551.7 725.4,1584.5 725.9,1584.7 726.3,1589.3 726.7,1587.8 727.1,1584.2 727.5,1584.8 728.0,1588.2 728.4,1591.0 728.8,1587.0 729.2,1580.7 729.6,1591.0 730.1,1590.4 730.5,1580.7 730.9,1581.4 731.3,1577.1 731.7,1579.1 732.2,1582.5 732.6,1570.1 733.0,1566.0 733.0,1566.0 733.4,1570.1 733.8,1582.5 734.3,1588.8 734.7,1589.4 735.1,1580.9 735.5,1586.9 735.9,1591.1 736.4,1584.4 736.8,1577.0 737.2,1581.9 737.6,1583.0 738.0,1586.6 738.5,1585.2 738.9,1572.0 739.3,1583.2 739.7,1584.8 740.1,1587.9 740.6,1586.2 741.0,1567.0 741.4,1553.6 741.6,1552.0 741.8,1553.9 742.2,1568.0 742.7,1576.4 743.1,1582.6 743.5,1588.9 743.9,1590.9 744.3,1575.9 744.8,1583.8 745.2,1587.6 745.6,1586.8 746.0,1585.3 746.4,1579.1 746.9,1586.0 747.3,1584.5 747.7,1584.1 748.1,1582.3 748.5,1587.8 749.0,1584.0 749.4,1576.1 749.8,1584.2 750.2,1580.4 750.6,1573.5 751.1,1562.1 751.3,1560.4 751.5,1561.4 751.9,1571.2 752.3,1581.2 752.7,1582.5 753.2,1581.9 753.6,1580.7 754.0,1584.0 754.4,1581.1 754.8,1584.9 755.3,1580.6 755.7,1589.9 756.1,1585.3 756.5,1591.4 756.9,1585.5 757.4,1585.1 757.8,1582.9 758.2,1588.1 758.6,1587.7 759.0,1590.3 759.5,1583.9 759.9,1583.5 760.3,1583.9 760.7,1585.8 761.1,1578.8 761.6,1571.7 761.8,1570.6 762.0,1571.2 762.4,1577.4 762.8,1591.6 763.2,1586.4 763.7,1579.5 764.1,1585.1 764.5,1590.9 764.9,1589.2 765.3,1591.8 765.8,1583.3 766.2,1586.8 766.6,1585.1 767.0,1578.9 767.4,1575.0 767.9,1584.1 768.3,1585.2 768.7,1582.3 769.1,1583.0 769.5,1589.4 770.0,1585.9 770.4,1588.0 770.8,1584.1 771.2,1588.1 771.6,1580.6 772.1,1584.4 772.5,1591.6 772.9,1583.8 773.3,1588.3 773.7,1592.1 774.2,1588.4 774.6,1585.8 775.0,1579.3 775.4,1582.1 775.8,1577.0 776.3,1573.6 776.3,1573.6 776.7,1575.9 777.1,1582.0 777.5,1590.1 777.9,1586.2 778.4,1584.9 778.8,1590.7 779.2,1587.6 779.6,1585.4 780.0,1589.1 780.5,1581.5 780.9,1592.2 781.3,1586.3 781.7,1588.9 782.1,1589.8 782.6,1589.2 783.0,1583.0 783.4,1585.1 783.8,1590.3 784.2,1579.7 784.7,1583.9 785.1,1581.0 785.5,1588.9 785.9,1590.9 786.3,1591.6 786.8,1589.1 787.2,1589.8 787.6,1588.8 788.0,1590.5 788.4,1590.8 788.9,1584.8 789.3,1580.7 789.7,1583.6 790.1,1575.1 790.5,1581.8 791.0,1588.7 791.4,1582.0 791.8,1587.1 792.2,1590.8 792.6,1590.5 793.1,1582.0 793.5,1587.5 793.9,1581.8 794.3,1569.6 794.7,1566.0 794.7,1566.0 795.2,1571.2 795.6,1583.0 796.0,1588.2 796.4,1586.3 796.8,1592.5 797.3,1591.6 797.7,1585.4 798.1,1585.7 798.5,1587.0 798.9,1589.9 799.4,1583.4 799.8,1590.3 800.2,1592.6 800.6,1591.0 801.0,1581.6 801.5,1571.8 801.8,1569.3 801.9,1569.4 802.3,1574.6 802.7,1587.3 803.1,1588.7 803.6,1590.0 804.0,1587.6 804.4,1591.4 804.8,1591.6 805.2,1581.6 805.7,1589.1 806.1,1587.2 806.5,1590.7 806.9,1584.1 807.3,1592.5 807.8,1587.1 808.2,1582.2 808.6,1587.7 809.0,1588.4 809.4,1590.9 809.9,1580.6 810.3,1579.3 810.7,1588.6 811.1,1589.1 811.5,1584.7 812.0,1588.1 812.4,1587.3 812.8,1572.8 813.2,1566.9 813.3,1566.7 813.6,1569.5 814.1,1580.8 814.5,1584.7 814.9,1584.2 815.3,1591.0 815.7,1589.3 816.2,1574.4 816.6,1582.8 817.0,1587.4 817.4,1588.1 817.8,1587.7 818.3,1584.2 818.7,1584.5 819.1,1584.6 819.5,1586.7 819.9,1591.5 820.4,1583.9 820.8,1588.9 821.2,1585.8 821.6,1590.3 822.0,1592.5 822.5,1589.6 822.9,1582.3 823.3,1587.4 823.7,1585.6 824.1,1582.1 824.6,1576.5 824.8,1575.7 825.0,1576.2 825.4,1581.0 825.8,1586.4 826.2,1587.3 826.7,1590.8 827.1,1586.5 827.5,1589.5 827.9,1587.1 828.3,1588.1 828.8,1588.8 829.2,1592.5 829.6,1586.1 830.0,1579.6 830.4,1584.2 830.9,1578.9 831.2,1577.4 831.3,1577.5 831.7,1580.6 832.1,1584.1 832.5,1583.0 833.0,1591.1 833.4,1586.3 833.8,1583.1 834.2,1593.1 834.6,1587.6 835.1,1578.2 835.5,1585.8 835.9,1589.0 836.3,1591.0 836.7,1585.7 837.2,1590.3 837.6,1584.2 838.0,1589.7 838.4,1588.0 838.8,1585.4 839.3,1592.2 839.7,1592.6 840.1,1583.9 840.5,1587.7 840.9,1592.6 841.4,1584.1 841.8,1591.2 842.2,1590.9 842.6,1584.9 843.0,1589.7 843.5,1590.4 843.9,1587.6 844.3,1590.7 844.7,1589.0 845.1,1588.4 845.6,1591.3 846.0,1589.3 846.4,1587.2 846.8,1583.3 847.2,1584.5 847.7,1590.1 848.1,1591.5 848.5,1586.2 848.9,1589.8 849.3,1588.1 849.8,1589.4 850.2,1587.4 850.6,1582.9 851.0,1585.5 851.4,1582.4 851.9,1588.7 852.3,1592.6 852.7,1589.2 853.1,1590.9 853.5,1577.6 854.0,1589.0 854.4,1588.6 854.8,1584.9 855.2,1581.9 855.6,1575.1 855.9,1573.9 856.1,1574.3 856.5,1579.8 856.9,1581.5 857.3,1589.1 857.7,1588.9 858.2,1590.4 858.6,1585.8 859.0,1587.4 859.4,1589.7 859.8,1593.6 860.3,1591.4 860.7,1588.9 861.1,1587.9 861.5,1576.4 861.9,1571.9 862.0,1571.8 862.4,1574.4 862.8,1583.9 863.2,1593.1 863.6,1590.9 864.0,1588.8 864.5,1582.7 864.9,1587.3 865.3,1582.9 865.7,1585.3 866.1,1583.9 866.6,1585.7 867.0,1584.6 867.4,1580.5 867.8,1575.0 868.0,1574.4 868.2,1575.4 868.7,1581.8 869.1,1586.4 869.5,1586.1 869.9,1588.1 870.3,1580.7 870.8,1589.3 871.2,1585.4 871.6,1575.6 872.0,1572.6 872.0,1572.6 872.4,1576.3 872.9,1586.7 873.3,1590.5 873.7,1587.9 874.1,1586.6 874.5,1590.1 875.0,1592.9 875.4,1586.8 875.8,1584.3 876.2,1589.4 876.6,1583.3 877.1,1588.8 877.5,1589.2 877.9,1585.4 878.3,1580.7 878.7,1589.5 879.2,1590.0 879.6,1581.7 880.0,1587.9 880.4,1585.3 880.8,1589.9 881.3,1588.7 881.7,1586.4 882.1,1588.4 882.5,1588.5 882.9,1587.7 883.4,1591.3 883.8,1589.1 884.2,1585.0 884.6,1573.3 885.0,1584.5 885.5,1592.0 885.9,1586.4 886.3,1584.7 886.7,1589.5 887.1,1593.2 887.6,1588.6 888.0,1592.3 888.4,1588.9 888.8,1589.8 889.2,1590.0 889.7,1586.2 890.1,1587.5 890.5,1586.1 890.9,1592.1 891.3,1588.7 891.8,1593.5 892.2,1587.2 892.6,1591.3 893.0,1590.9 893.4,1585.6 893.9,1586.3 894.3,1582.1 894.7,1584.1 895.1,1587.5 895.5,1590.3 896.0,1588.3 896.4,1589.0 896.8,1585.9 897.2,1584.7 897.6,1582.4 898.1,1591.2 898.5,1593.2 898.9,1591.5 899.3,1591.3 899.7,1592.2 900.2,1591.9 900.6,1587.7 901.0,1593.0 901.4,1586.1 901.8,1589.0 902.3,1593.6 902.7,1585.0 903.1,1583.2 903.5,1591.3 903.9,1592.1 904.4,1585.6 904.8,1587.8 905.2,1587.8 905.6,1589.3 906.0,1588.2 906.5,1589.0 906.9,1587.4 907.3,1589.4 907.7,1592.6 908.1,1577.1 908.6,1566.6 908.8,1565.0 909.0,1565.9 909.4,1575.0 909.8,1591.8 910.2,1587.1 910.7,1584.3 911.1,1589.7 911.5,1591.6 911.9,1589.0 912.3,1593.5 912.8,1587.8 913.2,1593.8 913.6,1587.1 914.0,1583.7 914.4,1588.9 914.9,1585.3 915.3,1589.4 915.7,1579.7 916.1,1584.8 916.5,1589.1 917.0,1586.2 917.4,1584.4 917.8,1592.3 918.2,1591.0 918.6,1589.2 919.1,1590.7 919.5,1593.2 919.9,1582.3 920.3,1586.7 920.7,1589.1 921.2,1583.0 921.6,1564.1 922.0,1557.8 922.0,1557.8 922.4,1564.1 922.8,1582.8 923.3,1584.9 923.7,1590.8 924.1,1590.4 924.5,1592.2 924.9,1590.9 925.4,1592.6 925.8,1591.3 926.2,1583.5 926.6,1588.4 927.0,1589.9 927.5,1589.7 927.9,1582.8 928.3,1589.7 928.7,1593.1 929.1,1593.7 929.6,1593.8 930.0,1590.6 930.4,1587.3 930.8,1588.9 931.2,1586.9 931.7,1584.8 932.1,1591.4 932.5,1593.1 932.9,1587.3 933.3,1591.0 933.8,1579.5 934.2,1574.7 934.3,1574.4 934.6,1576.0 935.0,1583.5 935.4,1591.1 935.9,1593.0 936.3,1593.4 936.7,1589.3 937.1,1580.1 937.5,1589.7 938.0,1586.1 938.4,1584.5 938.8,1585.9 939.2,1592.2 939.6,1583.7 940.1,1590.7 940.5,1589.9 940.9,1591.1 941.3,1587.0 941.7,1580.2 942.2,1589.0 942.6,1584.7 943.0,1593.0 943.4,1587.3 943.8,1589.7 944.3,1593.5 944.7,1587.2 945.1,1585.2 945.5,1589.1 945.9,1593.6 946.4,1586.7 946.8,1583.0 947.2,1591.4 947.6,1582.3 948.0,1586.4 948.5,1588.1 948.9,1593.3 949.3,1585.0 949.7,1588.1 950.1,1587.9 950.6,1589.5 951.0,1589.7 951.4,1568.8 951.8,1580.5 952.2,1580.8 952.7,1589.1 953.1,1593.8 953.5,1586.3 953.9,1593.9 954.3,1593.8 954.8,1585.5 955.2,1586.2 955.6,1579.1 956.0,1585.0 956.4,1588.4 956.9,1589.7 957.3,1582.4 957.7,1593.3 958.1,1588.5 958.5,1586.0 959.0,1589.8 959.4,1584.6 959.8,1589.6 960.2,1587.9 960.6,1587.8 961.1,1590.8 961.5,1591.2 961.9,1587.9 962.3,1593.9 962.7,1585.2 963.2,1587.3 963.6,1579.1 964.0,1576.4 964.0,1576.4 964.4,1579.1 964.8,1587.3 965.3,1589.7 965.7,1584.6 966.1,1579.9 966.5,1585.2 966.9,1584.6 967.4,1584.6 967.8,1588.2 968.2,1589.2 968.6,1590.6 969.0,1585.4 969.5,1593.2 969.9,1590.9 970.3,1593.9 970.7,1594.1 971.1,1584.4 971.6,1587.7 972.0,1594.2 972.4,1590.0 972.8,1591.4 973.2,1588.6 973.7,1588.6 974.1,1582.7 974.5,1588.9 974.9,1578.9 975.3,1568.5 975.6,1566.7 975.8,1567.4 976.2,1574.3 976.6,1586.7 977.0,1593.1 977.4,1588.4 977.9,1591.2 978.3,1589.6 978.7,1589.7 979.1,1579.2 979.5,1578.2 980.0,1568.2 980.2,1566.7 980.4,1567.6 980.8,1576.2 981.2,1593.7 981.6,1593.4 982.1,1591.5 982.5,1583.6 982.9,1568.2 983.3,1563.4 983.3,1563.4 983.7,1569.2 984.2,1585.6 984.6,1586.6 985.0,1583.3 985.4,1589.2 985.8,1585.8 986.3,1585.7 986.7,1585.0 987.1,1587.9 987.5,1579.1 987.9,1582.2 988.4,1586.8 988.8,1590.0 989.2,1584.1 989.6,1584.2 990.0,1592.0 990.5,1580.5 990.9,1575.9 991.0,1575.7 991.3,1577.2 991.7,1584.2 992.1,1583.8 992.6,1593.6 993.0,1589.8 993.4,1589.3 993.8,1588.3 994.2,1578.2 994.7,1574.4 994.7,1574.4 995.1,1577.0 995.5,1585.9 995.9,1582.7 996.3,1582.1 996.8,1590.7 997.2,1580.2 997.6,1588.7 998.0,1591.2 998.4,1582.2 998.9,1593.9 999.3,1587.0 999.7,1592.4 1000.1,1580.8 1000.5,1588.1 1001.0,1590.7 1001.4,1592.4 1001.8,1588.4 1002.2,1586.3 1002.6,1592.6 1003.1,1590.7 1003.5,1593.1 1003.9,1591.9 1004.3,1593.9 1004.7,1585.5 1005.2,1593.9 1005.6,1588.8 1006.0,1591.9 1006.4,1589.9 1006.8,1593.6 1007.3,1588.3 1007.7,1591.0 1008.1,1590.0 1008.5,1589.2 1008.9,1587.4 1009.4,1576.5 1009.8,1572.6 1009.8,1572.6 1010.2,1575.8 1010.6,1586.1 1011.0,1590.4 1011.5,1587.4 1011.9,1590.7 1012.3,1590.9 1012.7,1594.0 1013.1,1588.3 1013.6,1592.3 1014.0,1591.8 1014.4,1591.4 1014.8,1586.6 1015.2,1592.8 1015.7,1592.7 1016.1,1581.1 1016.5,1583.2 1016.9,1574.4 1017.3,1547.9 1017.7,1540.7 1017.8,1540.9 1018.2,1553.5 1018.6,1585.6 1019.0,1590.2 1019.4,1579.6 1019.9,1593.1 1020.3,1593.8 1020.7,1593.9 1021.1,1593.1 1021.5,1586.2 1022.0,1587.4 1022.4,1594.3 1022.8,1584.4 1023.2,1572.3 1023.6,1568.8 1023.6,1568.8 1024.1,1574.0 1024.5,1587.7 1024.9,1585.4 1025.3,1582.8 1025.7,1575.6 1026.0,1574.4 1026.2,1574.9 1026.6,1580.5 1027.0,1589.7 1027.4,1586.3 1027.8,1589.9 1028.3,1587.1 1028.7,1589.6 1029.1,1589.8 1029.5,1587.1 1029.9,1588.2 1030.4,1591.8 1030.8,1590.4 1031.2,1591.4 1031.6,1591.3 1032.0,1586.9 1032.5,1584.9 1032.9,1593.2 1033.3,1586.5 1033.7,1588.7 1034.1,1592.1 1034.6,1587.4 1035.0,1586.3 1035.4,1582.9 1035.8,1593.7 1036.2,1585.5 1036.7,1587.9 1037.1,1591.1 1037.5,1586.7 1037.9,1585.5 1038.3,1586.4 1038.8,1590.0 1039.2,1588.5 1039.6,1588.1 1040.0,1588.1 1040.4,1592.0 1040.9,1589.3 1041.3,1585.5 1041.7,1579.5 1042.0,1578.2 1042.1,1578.4 1042.5,1582.3 1043.0,1586.1 1043.4,1586.1 1043.8,1590.0 1044.2,1593.2 1044.6,1591.3 1045.1,1588.3 1045.5,1585.0 1045.9,1585.2 1046.3,1586.7 1046.7,1585.5 1047.2,1585.7 1047.6,1586.1 1048.0,1593.5 1048.4,1587.8 1048.8,1591.6 1049.3,1594.4 1049.7,1594.3 1050.1,1593.4 1050.5,1589.6 1050.9,1577.5 1051.4,1566.7 1051.6,1565.0 1051.8,1565.9 1052.2,1575.4 1052.6,1591.0 1053.0,1583.1 1053.5,1588.0 1053.9,1593.9 1054.3,1593.9 1054.7,1588.3 1055.1,1586.5 1055.6,1588.1 1056.0,1588.2 1056.4,1587.3 1056.8,1584.8 1057.2,1583.2 1057.7,1577.2 1057.8,1579.0 1058.1,1580.0 1058.5,1585.5 1058.9,1586.6 1059.3,1586.3 1059.8,1585.3 1060.2,1589.0 1060.6,1588.2 1061.0,1591.1 1061.4,1593.8 1061.9,1594.3 1062.3,1591.7 1062.7,1592.4 1063.1,1585.5 1063.5,1585.1 1064.0,1590.2 1064.4,1585.0 1064.8,1583.0 1065.2,1578.2 1065.4,1577.7 1065.6,1578.6 1066.1,1584.2 1066.5,1594.5 1066.9,1588.3 1067.3,1593.4 1067.7,1591.6 1068.2,1594.1 1068.6,1589.0 1069.0,1591.3 1069.4,1592.0 1069.8,1592.8 1070.3,1593.2 1070.7,1592.4 1071.1,1593.2 1071.5,1592.6 1071.9,1594.2 1072.4,1592.6 1072.8,1593.6 1073.2,1592.1 1073.6,1594.1 1074.0,1594.0 1074.5,1593.0 1074.9,1592.9 1075.3,1593.3 1075.7,1592.9 1076.1,1593.7 1076.6,1592.7 1077.0,1592.7 1077.4,1593.2 1077.8,1593.1 1078.2,1593.1 1078.7,1594.2 1079.1,1593.1 1079.5,1593.3 1079.9,1593.5 1080.3,1593.5 1080.8,1592.9 1081.2,1592.8 1081.6,1593.8 1082.0,1593.1 1082.4,1593.7 1082.9,1594.1 1083.3,1593.4 1083.7,1594.1 1084.1,1592.9 1084.5,1592.6 1085.0,1592.8 1085.4,1594.0 1085.8,1593.8 1086.2,1593.5 1086.6,1593.4 1087.1,1591.7 1087.5,1586.7 1087.9,1585.0 1087.9,1585.0 1088.3,1586.7 1088.7,1591.7 1089.2,1593.0 1089.6,1594.1 1090.0,1593.3 1090.4,1592.3 1090.8,1593.9 1091.3,1593.7 1091.7,1593.7 1092.1,1593.4 1092.5,1583.8 1092.9,1575.1 1093.2,1573.6 1093.4,1574.2 1093.8,1581.1 1094.2,1593.8 1094.6,1593.2 1095.0,1592.9 1095.5,1590.8 1095.9,1594.1 1096.3,1593.5 1096.7,1592.5 1097.1,1592.2 1097.6,1593.6 1098.0,1593.1 1098.4,1592.9 1098.8,1594.1 1099.2,1593.3 1099.7,1594.2 1100.1,1592.9 1100.5,1592.1 1100.9,1593.0 1101.3,1592.9 1101.8,1593.3 1102.2,1593.3 1102.6,1593.0 1103.0,1593.0 1103.4,1593.2 1103.9,1593.5 1104.3,1593.5 1104.7,1593.4 1105.1,1592.7 1105.5,1592.1 1106.0,1592.7 1106.4,1592.8 1106.8,1592.8 1107.2,1593.5 1107.6,1592.8 1108.1,1592.4 1108.5,1593.8 1108.9,1593.8 1109.3,1592.7 1109.7,1585.6 1110.2,1581.6 1110.3,1581.3 1110.6,1582.4 1111.0,1588.0 1111.4,1592.8 1111.8,1594.1 1112.3,1593.7 1112.7,1593.4 1113.1,1592.6 1113.5,1593.2 1113.9,1592.9 1114.4,1593.8 1114.8,1594.2 1115.2,1594.0 1115.6,1593.6 1116.0,1593.2 1116.5,1591.7 1116.9,1592.4 1117.3,1593.9 1117.7,1594.1 1118.1,1592.0 1118.6,1586.5 1119.0,1584.6 1119.0,1584.6 1119.4,1586.2 1119.8,1591.3 1120.2,1593.7 1120.7,1592.3 1121.1,1593.9 1121.5,1594.1 1121.9,1591.9 1122.3,1592.2 1122.8,1593.1 1123.2,1594.2 1123.6,1592.7 1124.0,1594.2 1124.4,1594.1 1124.9,1594.2 1125.3,1594.0 1125.7,1593.7 1126.1,1591.5 1126.5,1592.4 1127.0,1592.7 1127.4,1593.5 1127.8,1592.9 1128.2,1592.6 1128.6,1593.5 1129.1,1593.8 1129.5,1593.6 1129.9,1594.2 1130.3,1594.2 1130.7,1594.0 1131.2,1593.3 1131.6,1570.6 1132.0,1555.3 1132.2,1553.5 1132.4,1555.7 1132.8,1571.7 1133.3,1593.5 1133.7,1592.6 1134.1,1593.2 1134.5,1593.6 1134.9,1592.9 1135.4,1593.0 1135.8,1578.9 1136.2,1572.8 1136.3,1572.6 1136.6,1575.0 1137.0,1585.4 1137.5,1593.3 1137.9,1593.4 1138.3,1592.0 1138.7,1592.5 1139.1,1592.4 1139.6,1593.5 1140.0,1593.3 1140.4,1594.2 1140.8,1593.2 1141.2,1594.1 1141.7,1593.5 1142.1,1592.8 1142.5,1593.9 1142.9,1592.6 1143.3,1593.8 1143.8,1592.4 1144.2,1592.7 1144.6,1593.6 1145.0,1593.3 1145.4,1593.0 1145.9,1593.1 1146.3,1592.8 1146.7,1593.0 1147.1,1593.2 1147.5,1593.2 1148.0,1593.3 1148.4,1593.7 1148.8,1592.9 1149.2,1593.7 1149.6,1594.1 1150.1,1593.2 1150.5,1593.2 1150.9,1594.2 1151.3,1593.9 1151.7,1593.3 1152.2,1591.3 1152.6,1588.4 1152.9,1587.7 1153.0,1587.8 1153.4,1589.5 1153.8,1593.5 1154.3,1593.8 1154.7,1593.6 1155.1,1593.4 1155.5,1593.1 1155.9,1593.1 1156.4,1593.1 1156.8,1593.5 1157.2,1593.2 1157.6,1593.6 1158.0,1592.4 1158.5,1593.5 1158.9,1593.7 1159.3,1593.4 1159.7,1593.7 1160.1,1592.9 1160.6,1593.1 1161.0,1593.9 1161.4,1593.6 1161.8,1594.2 1162.2,1593.7 1162.7,1593.0 1163.1,1593.2 1163.5,1592.7 1163.9,1594.1 1164.3,1593.3 1164.8,1593.0 1165.2,1592.9 1165.6,1593.3 1166.0,1593.3 1166.4,1592.0 1166.9,1593.2 1167.3,1593.8 1167.7,1593.3 1168.1,1593.1 1168.5,1592.3 1169.0,1593.2 1169.4,1593.6 1169.8,1592.4 1170.2,1594.3 1170.6,1594.2 1171.1,1594.2 1171.5,1593.4 1171.9,1594.1 1172.3,1593.8 1172.7,1594.1 1173.2,1593.6 1173.6,1593.1 1174.0,1593.3 1174.4,1594.2 1174.8,1593.5 1175.3,1593.1 1175.7,1591.8 1176.1,1593.8 1176.5,1593.2 1176.9,1588.7 1177.4,1584.6 1177.6,1584.0 1177.8,1584.3 1178.2,1587.9 1178.6,1592.5 1179.0,1594.3 1179.5,1593.5 1179.9,1592.7 1180.3,1593.4 1180.7,1593.8 1181.1,1592.9 1181.6,1592.7 1182.0,1592.0 1182.4,1593.9 1182.8,1593.3 1183.2,1593.3 1183.7,1593.7 1184.1,1594.1 1184.5,1593.2 1184.9,1593.3 1185.3,1593.4 1185.8,1593.0 1186.2,1593.2 1186.6,1594.2 1187.0,1586.8 1187.4,1583.0 1187.6,1582.7 1187.9,1583.5 1188.3,1588.3 1188.7,1594.2 1189.1,1593.6 1189.5,1593.6 1190.0,1594.1 1190.4,1593.2 1190.8,1593.5 1191.2,1592.9 1191.6,1594.2 1192.1,1593.0 1192.5,1592.7 1192.9,1592.8 1193.3,1593.6 1193.7,1593.4 1194.2,1593.7 1194.6,1593.1 1195.0,1592.9 1195.4,1592.6 1195.8,1592.6 1196.3,1593.0 1196.7,1594.0 1197.1,1593.4 1197.5,1594.1 1197.9,1593.6 1198.4,1593.0 1198.8,1594.0 1199.2,1591.5 1199.6,1593.4 1200.0,1594.2 1200.5,1593.4 1200.9,1592.7 1201.3,1594.2 1201.7,1593.7 1202.1,1593.3 1202.6,1593.2 1203.0,1593.8 1203.4,1594.2 1203.8,1593.9 1204.2,1593.8 1204.7,1593.0 1205.1,1593.6 1205.5,1592.8 1205.9,1594.0 1206.3,1593.6 1206.8,1593.0 1207.2,1593.0 1207.6,1594.3 1208.0,1594.1 1208.4,1593.6 1208.9,1594.2 1209.3,1594.1 1209.7,1592.4 1210.1,1593.7 1210.5,1593.4 1211.0,1593.9 1211.4,1592.8 1211.8,1594.0 1212.2,1593.1 1212.6,1594.2 1213.1,1593.1 1213.5,1593.0 1213.9,1593.7 1214.3,1593.7 1214.7,1593.5 1215.2,1593.3 1215.6,1593.0 1216.0,1593.8 1216.4,1593.2 1216.8,1593.4 1217.3,1592.7 1217.7,1593.1 1218.1,1593.2 1218.5,1594.2 1218.9,1593.7 1219.4,1593.2 1219.8,1594.1 1220.2,1593.1 1220.6,1593.4 1221.0,1592.4 1221.5,1593.6 1221.9,1593.0 1222.3,1593.9 1222.7,1593.1 1223.1,1593.6 1223.6,1593.6 1224.0,1593.3 1224.4,1593.5 1224.8,1593.4 1225.2,1593.0 1225.7,1593.6 1226.1,1594.0 1226.5,1592.9 1226.9,1592.5 1227.3,1594.0 1227.8,1594.1 1228.2,1592.7 1228.6,1593.8 1229.0,1593.2 1229.4,1593.9 1229.9,1593.3 1230.3,1593.6 1230.7,1593.3 1231.1,1593.2 1231.5,1593.6 1232.0,1593.5 1232.4,1593.5 1232.8,1594.2 1233.2,1593.2 1233.6,1587.6 1234.1,1582.7 1234.3,1582.0 1234.5,1582.4 1234.9,1586.7 1235.3,1594.2 1235.7,1593.0 1236.2,1593.5 1236.6,1592.8 1237.0,1593.0 1237.4,1593.3 1237.8,1593.7 1238.3,1593.8 1238.7,1588.7 1239.1,1583.2 1239.4,1582.0 1239.5,1582.2 1239.9,1585.8 1240.4,1593.9 1240.8,1593.9 1241.2,1593.8 1241.6,1594.3 1242.0,1594.1 1242.5,1594.0 1242.9,1593.4 1243.3,1593.5 1243.7,1593.9 1244.1,1592.8 1244.6,1594.1 1245.0,1593.8 1245.4,1593.8 1245.8,1593.2 1246.2,1593.0 1246.7,1592.5 1247.1,1593.2 1247.5,1593.8 1247.9,1593.9 1248.3,1593.8 1248.8,1594.2 1249.2,1594.0 1249.6,1594.2 1250.0,1592.7 1250.4,1593.1 1250.9,1592.0 1251.3,1594.3 1251.7,1593.9 1252.1,1592.7 1252.5,1588.3 1253.0,1586.6 1253.0,1586.6 1253.4,1587.7 1253.8,1591.6 1254.2,1593.3 1254.6,1593.9 1255.1,1594.3 1255.5,1593.8 1255.9,1594.1 1256.3,1594.2 1256.7,1593.0 1257.2,1593.9 1257.6,1593.4 1258.0,1592.9 1258.4,1594.3 1258.8,1593.8 1259.3,1593.3 1259.7,1594.3 1260.1,1594.0 1260.5,1593.3 1260.9,1593.7 1261.4,1594.1 1261.8,1593.5 1262.2,1593.5 1262.6,1593.2 1263.0,1586.0 1263.5,1560.2 1263.9,1551.0 1263.9,1551.0 1264.3,1558.6 1264.7,1582.8 1265.1,1592.7 1265.6,1594.1 1266.0,1593.0 1266.4,1592.7 1266.8,1593.2 1267.2,1592.9 1267.7,1593.2 1268.1,1593.4 1268.5,1591.8 1268.9,1588.1 1269.3,1587.0 1269.3,1587.0 1269.8,1588.6 1270.2,1592.8 1270.6,1593.3 1271.0,1593.0 1271.4,1594.2 1271.9,1593.8 1272.3,1593.6 1272.7,1593.7 1273.1,1594.0 1273.5,1594.1 1274.0,1594.2 1274.4,1594.3 1274.8,1592.9 1275.2,1594.0 1275.6,1594.1 1276.1,1593.2 1276.5,1592.6 1276.9,1594.1 1277.3,1594.2 1277.7,1592.9 1278.2,1594.1 1278.6,1593.0 1279.0,1585.7 1279.4,1582.7 1279.5,1582.6 1279.8,1584.0 1280.3,1589.7 1280.7,1592.6 1281.1,1592.5 1281.5,1593.7 1281.9,1592.1 1282.4,1594.3 1282.8,1593.2 1283.2,1593.9 1283.6,1594.2 1284.0,1593.2 1284.5,1592.7 1284.9,1593.3 1285.3,1589.2 1285.7,1580.7 1286.1,1578.2 1286.1,1578.2 1286.6,1581.8 1287.0,1591.5 1287.4,1590.9 1287.8,1593.6 1288.2,1593.7 1288.7,1593.7 1289.1,1594.3 1289.5,1592.5 1289.9,1585.0 1290.3,1582.0 1290.4,1582.0 1290.8,1583.7 1291.2,1589.9 1291.6,1593.4 1292.0,1592.8 1292.4,1592.6 1292.9,1593.4 1293.3,1593.5 1293.7,1594.2 1294.1,1593.1 1294.5,1592.5 1295.0,1592.9 1295.4,1592.7 1295.8,1593.3 1296.2,1593.1 1296.6,1593.6 1297.1,1593.2 1297.5,1593.7 1297.9,1589.0 1298.3,1584.2 1298.6,1583.3 1298.7,1583.5 1299.2,1586.9 1299.6,1593.1 1300.0,1594.2 1300.4,1593.4 1300.8,1593.7 1301.3,1593.4 1301.7,1594.3 1302.1,1591.6 1302.5,1578.0 1302.9,1572.7 1303.0,1572.6 1303.4,1575.6 1303.8,1586.9 1304.2,1592.6 1304.6,1593.4 1305.0,1593.6 1305.5,1594.0 1305.9,1593.4 1306.3,1594.2 1306.7,1593.1 1307.1,1594.2 1307.6,1593.3 1308.0,1594.3 1308.4,1593.9 1308.8,1594.2 1309.2,1593.0 1309.7,1594.3 1310.1,1594.3 1310.5,1592.8 1310.9,1593.7 1311.3,1594.1 1311.8,1593.8 1312.2,1592.2 1312.6,1593.6 1313.0,1593.3 1313.4,1593.3 1313.9,1593.4 1314.3,1593.6 1314.7,1593.6 1315.1,1593.5 1315.5,1593.5 1316.0,1592.8 1316.4,1593.1 1316.8,1593.2 1317.2,1593.3 1317.6,1593.9 1318.1,1593.1 1318.5,1594.2 1318.9,1594.2 1319.3,1593.1 1319.7,1593.7 1320.2,1593.1 1320.6,1593.1 1321.0,1593.5 1321.4,1593.3 1321.8,1594.1 1322.3,1593.4 1322.7,1594.3 1323.1,1593.9 1323.5,1593.3 1323.9,1593.2 1324.4,1593.4 1324.8,1592.8 1325.2,1593.3 1325.6,1594.3 1326.0,1593.7 1326.5,1593.2 1326.9,1594.3 1327.3,1593.5 1327.7,1593.2 1328.1,1592.5 1328.6,1593.1 1329.0,1592.6 1329.4,1592.8 1329.8,1594.2 1330.2,1593.7 1330.7,1593.4 1331.1,1594.2 1331.5,1594.1 1331.9,1593.8 1332.3,1592.8 1332.8,1593.4 1333.2,1593.9 1333.6,1592.4 1334.0,1592.6 1334.4,1593.4 1334.9,1593.5 1335.3,1590.1 1335.7,1582.0 1336.1,1579.5 1336.1,1579.5 1336.5,1582.6 1337.0,1591.2 1337.4,1593.1 1337.8,1593.5 1338.2,1593.5 1338.6,1594.3 1339.1,1592.8 1339.5,1594.2 1339.9,1593.3 1340.3,1594.3 1340.7,1593.9 1341.2,1593.0 1341.6,1594.0 1342.0,1593.6 1342.4,1593.9 1342.8,1594.3 1343.3,1593.1 1343.7,1593.0 1344.1,1594.1 1344.5,1594.3 1344.9,1593.7 1345.4,1594.0 1345.8,1594.2 1346.2,1593.4 1346.6,1592.5 1347.0,1593.7 1347.5,1593.2 1347.9,1592.8 1348.3,1593.7 1348.7,1593.2 1349.1,1593.3 1349.6,1593.5 1350.0,1592.6 1350.4,1593.5 1350.8,1593.0 1351.2,1593.9 1351.7,1593.7 1352.1,1593.9 1352.5,1594.3 1352.9,1593.9 1353.3,1593.4 1353.8,1593.3 1354.2,1593.7 1354.6,1592.9 1355.0,1592.6 1355.4,1593.5 1355.9,1592.4 1356.3,1593.7 1356.7,1590.1 1357.1,1587.9 1357.3,1587.7 1357.5,1588.1 1358.0,1590.6 1358.4,1593.2 1358.8,1593.6 1359.2,1593.3 1359.6,1593.7 1360.1,1593.6 1360.5,1593.0 1360.9,1593.9 1361.3,1594.2 1361.7,1593.9 1362.2,1593.4 1362.6,1594.1 1363.0,1594.0 1363.4,1593.8 1363.8,1593.4 1364.3,1592.4 1364.7,1592.7 1365.1,1592.6 1365.5,1593.2 1365.9,1593.9 1366.4,1593.6 1366.8,1594.0 1367.2,1593.7 1367.6,1593.6 1368.0,1593.3 1368.5,1593.7 1368.9,1592.8 1369.3,1593.5 1369.7,1593.1 1370.1,1593.1 1370.6,1594.0 1371.0,1594.3 1371.4,1593.5 1371.8,1593.0 1372.2,1593.9 1372.7,1593.9 1373.1,1593.8 1373.5,1594.0 1373.9,1593.9 1374.3,1594.3 1374.8,1593.1 1375.2,1593.5 1375.6,1594.2 1376.0,1594.4 1376.4,1593.6 1376.9,1593.9 1377.3,1594.2 1377.7,1593.2 1378.1,1593.8 1378.5,1593.8 1379.0,1593.7 1379.4,1593.7 1379.8,1594.3 1380.2,1593.6 1380.6,1593.6 1381.1,1592.7 1381.5,1593.6 1381.9,1593.5 1382.3,1593.9 1382.7,1593.0 1383.2,1593.5 1383.6,1594.0 1384.0,1593.6 1384.4,1593.7 1384.8,1592.8 1385.3,1593.4 1385.7,1593.4 1386.1,1594.0 1386.5,1594.4 1386.9,1593.2 1387.4,1588.9 1387.8,1586.7 1387.9,1586.6 1388.2,1587.3 1388.6,1590.8 1389.0,1594.2 1389.5,1594.3 1389.9,1594.1 1390.3,1593.6 1390.7,1594.3 1391.1,1593.4 1391.6,1593.8 1392.0,1592.4 1392.4,1593.3 1392.8,1593.6 1393.2,1584.4 1393.7,1570.9 1394.0,1567.5 1394.1,1567.7 1394.5,1574.8 1394.9,1592.2 1395.3,1593.7 1395.8,1593.7 1396.2,1593.5 1396.6,1593.0 1397.0,1593.4 1397.4,1593.8 1397.9,1594.3 1398.3,1593.3 1398.7,1586.1 1399.1,1578.5 1399.4,1577.0 1399.5,1577.4 1400.0,1582.9 1400.4,1593.2 1400.8,1593.2 1401.2,1594.1 1401.6,1593.4 1402.1,1593.7 1402.5,1591.9 1402.9,1593.9 1403.3,1593.5 1403.7,1585.7 1404.2,1581.6 1404.3,1581.3 1404.6,1582.4 1405.3,1594.6"/>
</g>
<g fill="#000" stroke="none">
<polygon points="698.4,85.6 698.3,195.0 697.9,196.0 697.6,400.0 697.4,513.4 700.6,513.4 700.4,400.0 700.1,196.0 699.7,195.0 699.6,85.6"/>
<polygon points="923.0,160.3 922.9,250.0 922.5,251.0 922.2,400.0 922.0,514.4 925.2,514.4 925.0,400.0 924.7,251.0 924.3,250.0 924.2,160.3"/>
<polygon points="702.0,436.0 702.0,456.0 701.7,457.0 701.5,473.0 701.3,513.4 704.1,513.4 704.0,473.0 703.7,457.0 703.5,456.0 703.4,436.0"/>
<polygon points="927.4,407.8 927.2,430.0 926.9,470.0 926.8,514.4 929.5,514.4 929.3,470.0 929.0,430.0 928.8,407.8"/>
<polygon points="468.6,601.0 468.3,1104.0 471.5,1104.0 471.1,601.0"/>
<polygon points="692.4,927.6 692.1,1104.0 694.9,1104.0 694.6,927.6"/>
<polygon points="464.7,1168.7 464.6,1191.0 464.2,1192.0 464.1,1340.0 463.7,1341.0 463.6,1584.0 467.2,1584.0 467.1,1341.0 466.7,1340.0 466.6,1192.0 466.1,1191.0 466.1,1168.7"/>
<polygon points="686.1,1406.5 685.7,1585.0 688.3,1585.0 687.9,1406.5"/>
</g>
<g font-family="'Liberation Sans', Arial, Helvetica, sans-serif" font-weight="700" font-size="46px" fill="#000">
<text transform="translate(677.0,81.2) scale(1,1.04)">+5</text>
<text transform="translate(902.7,154.4) scale(1,1.04)">+4</text>
<text transform="translate(521.2,489.7) scale(1,1.04)">+6</text>
<text transform="translate(1377.0,104.0) scale(1,1.04)">a</text>
<text transform="translate(1377.5,625.2) scale(1,1.04)">b</text>
<text transform="translate(1377.0,1197.4) scale(1,1.04)">c</text>
<text transform="translate(428.5,598.2) scale(1,1.04)">β+4</text>
<text transform="translate(658.0,920.7) scale(1,1.04)">β+3</text>
<text transform="translate(704.5,1065.4) scale(1,1.04)">α+2</text>
<text transform="translate(436.2,1165.6) scale(1,1.04)">β+4</text>
<text transform="translate(657.7,1407.2) scale(1,1.04)">β+3</text>
<text transform="translate(73.6,1750.0) scale(1,1.04)">400</text>
<text transform="translate(387.5,1750.0) scale(1,1.04)">800</text>
<text transform="translate(687.0,1750.0) scale(1,1.04)">1200</text>
<text transform="translate(1000.0,1750.0) scale(1,1.04)">1600</text>
<text transform="translate(1310.0,1750.0) scale(1,1.04)">2000</text>
<text transform="translate(700.3,1846.5) scale(1,1.04)">m/z</text>
<text transform="translate(62.2,911.0) rotate(-90) scale(1,1.03)" font-size="47px">Intensity (a. u.)</text>
</g>
</svg>
</body>
</html>
